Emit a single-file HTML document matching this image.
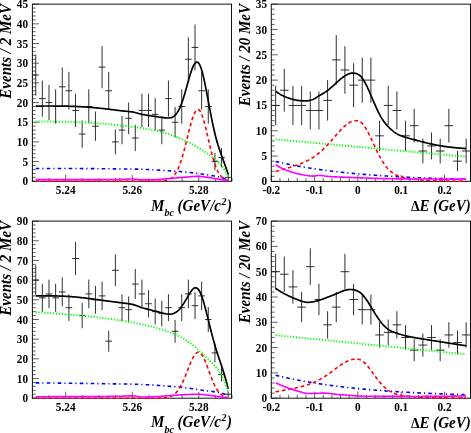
<!DOCTYPE html>
<html><head><meta charset="utf-8"><title>fit</title>
<style>
html,body{margin:0;padding:0;background:#fff;}
body{width:471px;height:433px;position:relative;overflow:hidden;font-family:"Liberation Serif",serif;}
text{font-family:"Liberation Serif",serif;fill:#000;}
.tl{font-size:12.5px;font-weight:bold;}
.ti{font-size:16px;font-weight:bold;font-style:italic;}
</style></head><body>
<svg width="471" height="433" viewBox="0 0 471 433" style="position:absolute;left:0;top:0;will-change:transform">
<rect width="471" height="433" fill="#fff"/>
<g id="P1">
<path d="M32.40,181.30h6.5 M32.40,177.36h3.3 M32.40,173.43h3.3 M32.40,169.49h3.3 M32.40,165.55h3.3 M32.40,161.62h6.5 M32.40,157.68h3.3 M32.40,153.74h3.3 M32.40,149.81h3.3 M32.40,145.87h3.3 M32.40,141.93h6.5 M32.40,138.00h3.3 M32.40,134.06h3.3 M32.40,130.12h3.3 M32.40,126.19h3.3 M32.40,122.25h6.5 M32.40,118.31h3.3 M32.40,114.38h3.3 M32.40,110.44h3.3 M32.40,106.50h3.3 M32.40,102.57h6.5 M32.40,98.63h3.3 M32.40,94.69h3.3 M32.40,90.76h3.3 M32.40,86.82h3.3 M32.40,82.88h6.5 M32.40,78.95h3.3 M32.40,75.01h3.3 M32.40,71.07h3.3 M32.40,67.14h3.3 M32.40,63.20h6.5 M32.40,59.26h3.3 M32.40,55.33h3.3 M32.40,51.39h3.3 M32.40,47.45h3.3 M32.40,43.52h6.5 M32.40,39.58h3.3 M32.40,35.64h3.3 M32.40,31.71h3.3 M32.40,27.77h3.3 M32.40,23.83h6.5 M32.40,19.90h3.3 M32.40,15.96h3.3 M32.40,12.02h3.3 M32.40,8.09h3.3 M32.40,4.15h6.5 M32.40,181.30v-3.3 M49.04,181.30v-3.3 M65.67,181.30v-6.5 M82.31,181.30v-3.3 M98.95,181.30v-3.3 M115.59,181.30v-3.3 M132.22,181.30v-6.5 M148.86,181.30v-3.3 M165.50,181.30v-3.3 M182.14,181.30v-3.3 M198.77,181.30v-6.5 M215.41,181.30v-3.3 M232.05,181.30v-3.3" stroke="#444" stroke-width="0.85" fill="none"/>
<rect x="32.40" y="4.15" width="199.10" height="177.15" fill="none" stroke="#111" stroke-width="1"/>
<path d="M35.72,54.55V95.47 M32.40,75.01H39.04 M42.35,80.59V116.67 M39.04,98.63H45.67 M48.99,84.96V120.17 M45.67,102.57H52.31 M55.63,89.34V123.66 M52.31,106.50H58.95 M62.27,67.53V106.11 M58.95,86.82H65.58 M68.90,71.88V109.64 M65.58,90.76H72.22 M75.54,93.74V127.14 M72.22,110.44H78.86 M82.17,120.42V147.70 M78.86,134.06H85.49 M88.81,89.34V123.66 M85.49,106.50H92.13 M95.45,111.46V140.92 M92.13,126.19H98.77 M102.09,45.94V88.34 M98.77,67.14H105.40 M108.72,71.88V109.64 M105.40,90.76H112.04 M115.36,129.48V154.38 M112.04,141.93H118.68 M122.00,115.93V144.32 M118.68,130.12H125.31 M128.63,102.57V134.06 M125.31,118.31H131.95 M135.27,124.94V151.05 M131.95,138.00H138.59 M141.91,93.74V127.14 M138.59,110.44H145.22 M148.54,93.74V127.14 M145.22,110.44H151.86 M155.18,98.15V130.61 M151.86,114.38H158.50 M161.81,115.93V144.32 M158.50,130.12H165.13 M168.45,80.59V116.67 M165.13,98.63H171.77 M175.09,107.00V137.50 M171.77,122.25H178.41 M181.72,89.34V123.66 M178.41,106.50H185.04 M188.36,37.34V81.18 M185.04,59.26H191.68 M195.00,24.50V70.41 M191.68,47.45H198.32 M201.64,71.88V109.64 M198.32,90.76H204.95 M208.27,89.34V123.66 M204.95,106.50H211.59 M214.91,152.81V170.42 M211.59,161.62H218.23 M221.55,148.04V167.32 M218.23,157.68H224.86 M228.18,173.43V181.30 M224.86,177.36H231.50" stroke="#1a1a1a" stroke-width="0.9" fill="none"/>
<path d="M35.72,106.15 L36.60,106.13 L37.48,106.11 L38.35,106.10 L39.23,106.08 L40.11,106.07 L40.99,106.05 L41.87,106.04 L42.75,106.03 L43.63,106.02 L44.51,106.01 L45.39,106.00 L46.26,106.00 L47.14,105.99 L48.02,105.99 L48.90,105.98 L49.78,105.98 L50.66,105.98 L51.54,105.98 L52.42,105.98 L53.29,105.98 L54.17,105.99 L55.05,105.99 L55.93,106.00 L56.81,106.00 L57.69,106.01 L58.57,106.02 L59.45,106.03 L60.33,106.04 L61.20,106.06 L62.08,106.07 L62.96,106.09 L63.84,106.11 L64.72,106.13 L65.60,106.15 L66.48,106.17 L67.36,106.19 L68.23,106.22 L69.11,106.24 L69.99,106.27 L70.87,106.30 L71.75,106.33 L72.63,106.36 L73.51,106.39 L74.39,106.42 L75.27,106.46 L76.14,106.49 L77.02,106.53 L77.90,106.57 L78.78,106.61 L79.66,106.65 L80.54,106.69 L81.42,106.73 L82.30,106.78 L83.18,106.83 L84.05,106.88 L84.93,106.94 L85.81,106.99 L86.69,107.05 L87.57,107.12 L88.45,107.18 L89.33,107.25 L90.21,107.32 L91.08,107.39 L91.96,107.47 L92.84,107.55 L93.72,107.63 L94.60,107.71 L95.48,107.79 L96.36,107.87 L97.24,107.96 L98.12,108.05 L98.99,108.14 L99.87,108.23 L100.75,108.33 L101.63,108.42 L102.51,108.52 L103.39,108.62 L104.27,108.71 L105.15,108.81 L106.02,108.92 L106.90,109.02 L107.78,109.12 L108.66,109.23 L109.54,109.33 L110.42,109.44 L111.30,109.55 L112.18,109.65 L113.06,109.76 L113.93,109.87 L114.81,109.98 L115.69,110.09 L116.57,110.20 L117.45,110.31 L118.33,110.42 L119.21,110.53 L120.09,110.65 L120.96,110.75 L121.84,110.85 L122.72,110.94 L123.60,111.03 L124.48,111.11 L125.36,111.19 L126.24,111.27 L127.12,111.35 L128.00,111.44 L128.87,111.53 L129.75,111.62 L130.63,111.72 L131.51,111.83 L132.39,111.96 L133.27,112.12 L134.15,112.31 L135.03,112.52 L135.90,112.75 L136.78,112.99 L137.66,113.24 L138.54,113.49 L139.42,113.74 L140.30,113.97 L141.18,114.19 L142.06,114.39 L142.94,114.56 L143.81,114.71 L144.69,114.86 L145.57,115.01 L146.45,115.15 L147.33,115.29 L148.21,115.43 L149.09,115.57 L149.97,115.71 L150.84,115.84 L151.72,115.97 L152.60,116.11 L153.48,116.24 L154.36,116.37 L155.24,116.51 L156.12,116.64 L157.00,116.77 L157.88,116.89 L158.75,117.01 L159.63,117.13 L160.51,117.24 L161.39,117.36 L162.27,117.47 L163.15,117.59 L164.03,117.69 L164.91,117.79 L165.78,117.88 L166.66,117.94 L167.54,117.98 L168.42,117.98 L169.30,117.93 L170.18,117.82 L171.06,117.63 L171.94,117.34 L172.82,116.94 L173.69,116.40 L174.57,115.73 L175.45,114.89 L176.33,113.87 L177.21,112.66 L178.09,111.24 L178.97,109.62 L179.85,107.77 L180.72,105.70 L181.60,103.42 L182.48,100.94 L183.36,98.27 L184.24,95.43 L185.12,92.46 L186.00,89.39 L186.88,86.24 L187.76,83.07 L188.63,79.93 L189.51,76.88 L190.39,73.98 L191.27,71.28 L192.15,68.83 L193.03,66.69 L193.91,64.91 L194.79,63.54 L195.67,62.61 L196.54,62.15 L197.42,62.18 L198.30,62.73 L199.18,63.84 L200.06,65.54 L200.94,67.78 L201.82,70.53 L202.70,73.75 L203.57,77.37 L204.45,81.34 L205.33,85.59 L206.21,90.06 L207.09,94.68 L207.97,99.38 L208.85,104.09 L209.73,108.77 L210.61,113.36 L211.48,117.84 L212.36,122.17 L213.24,126.31 L214.12,130.26 L215.00,133.99 L215.88,137.48 L216.76,140.74 L217.64,143.79 L218.51,146.64 L219.39,149.32 L220.27,151.88 L221.15,154.35 L222.03,156.76 L222.91,159.17 L223.79,161.61 L224.67,164.08 L225.55,166.58 L226.42,169.12 L227.30,171.68 L228.18,174.27" stroke="#000" stroke-width="1.7" fill="none" stroke-linejoin="round"/>
<path d="M35.72,121.46 L36.60,121.46 L37.48,121.46 L38.35,121.47 L39.23,121.47 L40.11,121.47 L40.99,121.48 L41.87,121.48 L42.75,121.49 L43.63,121.50 L44.51,121.50 L45.39,121.51 L46.26,121.52 L47.14,121.53 L48.02,121.54 L48.90,121.55 L49.78,121.56 L50.66,121.57 L51.54,121.59 L52.42,121.60 L53.29,121.61 L54.17,121.63 L55.05,121.64 L55.93,121.66 L56.81,121.68 L57.69,121.69 L58.57,121.71 L59.45,121.73 L60.33,121.75 L61.20,121.76 L62.08,121.78 L62.96,121.80 L63.84,121.82 L64.72,121.84 L65.60,121.86 L66.48,121.88 L67.36,121.91 L68.23,121.93 L69.11,121.95 L69.99,121.97 L70.87,122.00 L71.75,122.02 L72.63,122.04 L73.51,122.07 L74.39,122.09 L75.27,122.12 L76.14,122.14 L77.02,122.16 L77.90,122.19 L78.78,122.21 L79.66,122.24 L80.54,122.27 L81.42,122.29 L82.30,122.33 L83.18,122.36 L84.05,122.39 L84.93,122.43 L85.81,122.47 L86.69,122.52 L87.57,122.56 L88.45,122.61 L89.33,122.66 L90.21,122.71 L91.08,122.76 L91.96,122.82 L92.84,122.88 L93.72,122.94 L94.60,123.00 L95.48,123.06 L96.36,123.13 L97.24,123.19 L98.12,123.26 L98.99,123.33 L99.87,123.41 L100.75,123.48 L101.63,123.56 L102.51,123.63 L103.39,123.71 L104.27,123.79 L105.15,123.87 L106.02,123.96 L106.90,124.04 L107.78,124.12 L108.66,124.21 L109.54,124.30 L110.42,124.39 L111.30,124.48 L112.18,124.57 L113.06,124.66 L113.93,124.75 L114.81,124.85 L115.69,124.94 L116.57,125.04 L117.45,125.14 L118.33,125.23 L119.21,125.33 L120.09,125.43 L120.96,125.53 L121.84,125.63 L122.72,125.73 L123.60,125.83 L124.48,125.93 L125.36,126.04 L126.24,126.14 L127.12,126.24 L128.00,126.34 L128.87,126.45 L129.75,126.55 L130.63,126.66 L131.51,126.76 L132.39,126.87 L133.27,126.98 L134.15,127.09 L135.03,127.21 L135.90,127.33 L136.78,127.45 L137.66,127.57 L138.54,127.70 L139.42,127.83 L140.30,127.96 L141.18,128.09 L142.06,128.23 L142.94,128.36 L143.81,128.51 L144.69,128.65 L145.57,128.80 L146.45,128.95 L147.33,129.10 L148.21,129.26 L149.09,129.42 L149.97,129.59 L150.84,129.75 L151.72,129.92 L152.60,130.10 L153.48,130.27 L154.36,130.45 L155.24,130.64 L156.12,130.82 L157.00,131.02 L157.88,131.21 L158.75,131.41 L159.63,131.61 L160.51,131.82 L161.39,132.04 L162.27,132.26 L163.15,132.50 L164.03,132.75 L164.91,133.00 L165.78,133.26 L166.66,133.53 L167.54,133.82 L168.42,134.10 L169.30,134.40 L170.18,134.70 L171.06,135.01 L171.94,135.33 L172.82,135.65 L173.69,135.99 L174.57,136.32 L175.45,136.67 L176.33,137.01 L177.21,137.37 L178.09,137.73 L178.97,138.09 L179.85,138.46 L180.72,138.83 L181.60,139.21 L182.48,139.59 L183.36,139.98 L184.24,140.36 L185.12,140.75 L186.00,141.15 L186.88,141.54 L187.76,141.94 L188.63,142.36 L189.51,142.78 L190.39,143.22 L191.27,143.67 L192.15,144.12 L193.03,144.59 L193.91,145.07 L194.79,145.56 L195.67,146.06 L196.54,146.57 L197.42,147.09 L198.30,147.61 L199.18,148.15 L200.06,148.69 L200.94,149.23 L201.82,149.79 L202.70,150.35 L203.57,150.91 L204.45,151.48 L205.33,152.06 L206.21,152.65 L207.09,153.26 L207.97,153.88 L208.85,154.51 L209.73,155.16 L210.61,155.82 L211.48,156.49 L212.36,157.18 L213.24,157.88 L214.12,158.60 L215.00,159.34 L215.88,160.07 L216.76,160.81 L217.64,161.56 L218.51,162.35 L219.39,163.18 L220.27,164.08 L221.15,165.05 L222.03,166.11 L222.91,167.31 L223.79,168.65 L224.67,170.11 L225.55,171.70 L226.42,173.39 L227.30,175.17 L228.18,177.04" stroke="#00ff00" stroke-width="1.9" fill="none" stroke-dasharray="1.2 1.7"/>
<path d="M35.72,168.43 L36.60,168.43 L37.48,168.43 L38.35,168.43 L39.23,168.43 L40.11,168.43 L40.99,168.43 L41.87,168.43 L42.75,168.43 L43.63,168.43 L44.51,168.43 L45.39,168.43 L46.26,168.43 L47.14,168.44 L48.02,168.44 L48.90,168.44 L49.78,168.44 L50.66,168.44 L51.54,168.44 L52.42,168.45 L53.29,168.45 L54.17,168.45 L55.05,168.45 L55.93,168.46 L56.81,168.46 L57.69,168.46 L58.57,168.46 L59.45,168.47 L60.33,168.47 L61.20,168.47 L62.08,168.48 L62.96,168.48 L63.84,168.48 L64.72,168.49 L65.60,168.49 L66.48,168.49 L67.36,168.50 L68.23,168.50 L69.11,168.50 L69.99,168.51 L70.87,168.51 L71.75,168.52 L72.63,168.52 L73.51,168.53 L74.39,168.53 L75.27,168.53 L76.14,168.54 L77.02,168.54 L77.90,168.55 L78.78,168.55 L79.66,168.56 L80.54,168.57 L81.42,168.57 L82.30,168.58 L83.18,168.58 L84.05,168.59 L84.93,168.59 L85.81,168.60 L86.69,168.60 L87.57,168.61 L88.45,168.62 L89.33,168.62 L90.21,168.63 L91.08,168.64 L91.96,168.64 L92.84,168.65 L93.72,168.66 L94.60,168.66 L95.48,168.67 L96.36,168.68 L97.24,168.68 L98.12,168.69 L98.99,168.70 L99.87,168.71 L100.75,168.71 L101.63,168.72 L102.51,168.73 L103.39,168.74 L104.27,168.74 L105.15,168.75 L106.02,168.76 L106.90,168.77 L107.78,168.78 L108.66,168.79 L109.54,168.79 L110.42,168.80 L111.30,168.81 L112.18,168.82 L113.06,168.83 L113.93,168.84 L114.81,168.85 L115.69,168.86 L116.57,168.87 L117.45,168.87 L118.33,168.88 L119.21,168.89 L120.09,168.90 L120.96,168.91 L121.84,168.92 L122.72,168.93 L123.60,168.94 L124.48,168.95 L125.36,168.96 L126.24,168.97 L127.12,168.98 L128.00,168.99 L128.87,169.00 L129.75,169.01 L130.63,169.03 L131.51,169.04 L132.39,169.05 L133.27,169.07 L134.15,169.09 L135.03,169.11 L135.90,169.13 L136.78,169.15 L137.66,169.17 L138.54,169.20 L139.42,169.22 L140.30,169.25 L141.18,169.28 L142.06,169.31 L142.94,169.34 L143.81,169.38 L144.69,169.41 L145.57,169.45 L146.45,169.48 L147.33,169.52 L148.21,169.56 L149.09,169.60 L149.97,169.64 L150.84,169.69 L151.72,169.73 L152.60,169.78 L153.48,169.82 L154.36,169.87 L155.24,169.92 L156.12,169.97 L157.00,170.02 L157.88,170.07 L158.75,170.12 L159.63,170.17 L160.51,170.23 L161.39,170.28 L162.27,170.33 L163.15,170.39 L164.03,170.45 L164.91,170.50 L165.78,170.56 L166.66,170.62 L167.54,170.68 L168.42,170.74 L169.30,170.80 L170.18,170.86 L171.06,170.93 L171.94,170.99 L172.82,171.05 L173.69,171.11 L174.57,171.18 L175.45,171.24 L176.33,171.31 L177.21,171.37 L178.09,171.44 L178.97,171.50 L179.85,171.57 L180.72,171.63 L181.60,171.70 L182.48,171.77 L183.36,171.85 L184.24,171.93 L185.12,172.01 L186.00,172.09 L186.88,172.18 L187.76,172.28 L188.63,172.37 L189.51,172.47 L190.39,172.57 L191.27,172.67 L192.15,172.78 L193.03,172.89 L193.91,173.00 L194.79,173.11 L195.67,173.22 L196.54,173.34 L197.42,173.46 L198.30,173.57 L199.18,173.69 L200.06,173.82 L200.94,173.94 L201.82,174.06 L202.70,174.18 L203.57,174.31 L204.45,174.43 L205.33,174.56 L206.21,174.68 L207.09,174.81 L207.97,174.94 L208.85,175.07 L209.73,175.20 L210.61,175.34 L211.48,175.48 L212.36,175.62 L213.24,175.77 L214.12,175.93 L215.00,176.09 L215.88,176.26 L216.76,176.44 L217.64,176.62 L218.51,176.81 L219.39,177.02 L220.27,177.24 L221.15,177.48 L222.03,177.74 L222.91,178.02 L223.79,178.31 L224.67,178.62 L225.55,178.94 L226.42,179.27 L227.30,179.61 L228.18,179.95" stroke="#0000ff" stroke-width="1.6" fill="none" stroke-dasharray="3.6 3 1.2 3.2"/>
<path d="M35.72,181.30 L36.60,181.30 L37.48,181.30 L38.35,181.30 L39.23,181.30 L40.11,181.30 L40.99,181.30 L41.87,181.30 L42.75,181.30 L43.63,181.30 L44.51,181.30 L45.39,181.30 L46.26,181.30 L47.14,181.30 L48.02,181.30 L48.90,181.30 L49.78,181.30 L50.66,181.30 L51.54,181.30 L52.42,181.30 L53.29,181.30 L54.17,181.30 L55.05,181.30 L55.93,181.30 L56.81,181.30 L57.69,181.30 L58.57,181.30 L59.45,181.30 L60.33,181.30 L61.20,181.30 L62.08,181.30 L62.96,181.30 L63.84,181.30 L64.72,181.30 L65.60,181.30 L66.48,181.30 L67.36,181.30 L68.23,181.30 L69.11,181.30 L69.99,181.30 L70.87,181.30 L71.75,181.30 L72.63,181.30 L73.51,181.30 L74.39,181.30 L75.27,181.30 L76.14,181.30 L77.02,181.30 L77.90,181.30 L78.78,181.30 L79.66,181.30 L80.54,181.30 L81.42,181.30 L82.30,181.30 L83.18,181.30 L84.05,181.30 L84.93,181.30 L85.81,181.30 L86.69,181.30 L87.57,181.30 L88.45,181.30 L89.33,181.30 L90.21,181.30 L91.08,181.30 L91.96,181.30 L92.84,181.30 L93.72,181.30 L94.60,181.30 L95.48,181.30 L96.36,181.30 L97.24,181.30 L98.12,181.30 L98.99,181.30 L99.87,181.30 L100.75,181.30 L101.63,181.30 L102.51,181.30 L103.39,181.30 L104.27,181.30 L105.15,181.30 L106.02,181.30 L106.90,181.30 L107.78,181.30 L108.66,181.30 L109.54,181.30 L110.42,181.30 L111.30,181.30 L112.18,181.30 L113.06,181.30 L113.93,181.30 L114.81,181.30 L115.69,181.30 L116.57,181.30 L117.45,181.30 L118.33,181.30 L119.21,181.30 L120.09,181.30 L120.96,181.30 L121.84,181.30 L122.72,181.30 L123.60,181.30 L124.48,181.30 L125.36,181.30 L126.24,181.30 L127.12,181.30 L128.00,181.30 L128.87,181.30 L129.75,181.30 L130.63,181.30 L131.51,181.30 L132.39,181.30 L133.27,181.30 L134.15,181.30 L135.03,181.30 L135.90,181.30 L136.78,181.30 L137.66,181.30 L138.54,181.30 L139.42,181.30 L140.30,181.30 L141.18,181.30 L142.06,181.30 L142.94,181.30 L143.81,181.30 L144.69,181.30 L145.57,181.30 L146.45,181.30 L147.33,181.30 L148.21,181.30 L149.09,181.30 L149.97,181.30 L150.84,181.30 L151.72,181.29 L152.60,181.29 L153.48,181.29 L154.36,181.28 L155.24,181.28 L156.12,181.27 L157.00,181.25 L157.88,181.24 L158.75,181.21 L159.63,181.18 L160.51,181.14 L161.39,181.09 L162.27,181.03 L163.15,180.94 L164.03,180.84 L164.91,180.70 L165.78,180.53 L166.66,180.31 L167.54,180.05 L168.42,179.73 L169.30,179.33 L170.18,178.85 L171.06,178.28 L171.94,177.60 L172.82,176.80 L173.69,175.86 L174.57,174.76 L175.45,173.50 L176.33,172.06 L177.21,170.42 L178.09,168.58 L178.97,166.53 L179.85,164.27 L180.72,161.78 L181.60,159.09 L182.48,156.20 L183.36,153.12 L184.24,149.87 L185.12,146.49 L186.00,143.00 L186.88,139.45 L187.76,135.87 L188.63,132.32 L189.51,128.85 L190.39,125.50 L191.27,122.35 L192.15,119.43 L193.03,116.81 L193.91,114.52 L194.79,112.62 L195.67,111.15 L196.54,110.12 L197.42,109.56 L198.30,109.49 L199.18,109.95 L200.06,110.96 L200.94,112.49 L201.82,114.50 L202.70,116.96 L203.57,119.79 L204.45,122.96 L205.33,126.39 L206.21,130.01 L207.09,133.77 L207.97,137.59 L208.85,141.41 L209.73,145.18 L210.61,148.84 L211.48,152.35 L212.36,155.69 L213.24,158.81 L214.12,161.71 L215.00,164.36 L215.88,166.77 L216.76,168.93 L217.64,170.85 L218.51,172.54 L219.39,174.01 L220.27,175.29 L221.15,176.37 L222.03,177.30 L222.91,178.07 L223.79,178.72 L224.67,179.25 L225.55,179.68 L226.42,180.04 L227.30,180.32 L228.18,180.54" stroke="#ff0000" stroke-width="1.6" fill="none" stroke-dasharray="3.6 2.8"/>
<path d="M35.72,179.65 L36.60,179.65 L37.48,179.65 L38.35,179.65 L39.23,179.65 L40.11,179.65 L40.99,179.65 L41.87,179.65 L42.75,179.65 L43.63,179.65 L44.51,179.65 L45.39,179.65 L46.26,179.65 L47.14,179.65 L48.02,179.65 L48.90,179.65 L49.78,179.65 L50.66,179.65 L51.54,179.65 L52.42,179.65 L53.29,179.65 L54.17,179.65 L55.05,179.65 L55.93,179.65 L56.81,179.65 L57.69,179.65 L58.57,179.65 L59.45,179.65 L60.33,179.65 L61.20,179.65 L62.08,179.65 L62.96,179.65 L63.84,179.65 L64.72,179.65 L65.60,179.65 L66.48,179.65 L67.36,179.65 L68.23,179.65 L69.11,179.65 L69.99,179.65 L70.87,179.65 L71.75,179.65 L72.63,179.65 L73.51,179.65 L74.39,179.65 L75.27,179.65 L76.14,179.65 L77.02,179.65 L77.90,179.65 L78.78,179.65 L79.66,179.65 L80.54,179.65 L81.42,179.65 L82.30,179.65 L83.18,179.65 L84.05,179.64 L84.93,179.64 L85.81,179.64 L86.69,179.64 L87.57,179.64 L88.45,179.64 L89.33,179.63 L90.21,179.63 L91.08,179.63 L91.96,179.62 L92.84,179.62 L93.72,179.62 L94.60,179.61 L95.48,179.61 L96.36,179.61 L97.24,179.60 L98.12,179.60 L98.99,179.59 L99.87,179.59 L100.75,179.58 L101.63,179.58 L102.51,179.57 L103.39,179.56 L104.27,179.56 L105.15,179.55 L106.02,179.54 L106.90,179.54 L107.78,179.53 L108.66,179.52 L109.54,179.52 L110.42,179.51 L111.30,179.50 L112.18,179.49 L113.06,179.48 L113.93,179.47 L114.81,179.47 L115.69,179.46 L116.57,179.45 L117.45,179.44 L118.33,179.43 L119.21,179.42 L120.09,179.41 L120.96,179.39 L121.84,179.37 L122.72,179.34 L123.60,179.31 L124.48,179.27 L125.36,179.23 L126.24,179.19 L127.12,179.15 L128.00,179.11 L128.87,179.08 L129.75,179.05 L130.63,179.03 L131.51,179.02 L132.39,179.02 L133.27,179.05 L134.15,179.11 L135.03,179.18 L135.90,179.28 L136.78,179.38 L137.66,179.49 L138.54,179.60 L139.42,179.70 L140.30,179.79 L141.18,179.86 L142.06,179.90 L142.94,179.92 L143.81,179.92 L144.69,179.91 L145.57,179.90 L146.45,179.89 L147.33,179.88 L148.21,179.86 L149.09,179.83 L149.97,179.81 L150.84,179.78 L151.72,179.76 L152.60,179.73 L153.48,179.70 L154.36,179.67 L155.24,179.64 L156.12,179.60 L157.00,179.56 L157.88,179.50 L158.75,179.45 L159.63,179.38 L160.51,179.31 L161.39,179.24 L162.27,179.17 L163.15,179.09 L164.03,179.01 L164.91,178.93 L165.78,178.84 L166.66,178.76 L167.54,178.68 L168.42,178.60 L169.30,178.52 L170.18,178.45 L171.06,178.38 L171.94,178.30 L172.82,178.22 L173.69,178.14 L174.57,178.06 L175.45,177.98 L176.33,177.90 L177.21,177.82 L178.09,177.74 L178.97,177.66 L179.85,177.58 L180.72,177.51 L181.60,177.43 L182.48,177.36 L183.36,177.29 L184.24,177.22 L185.12,177.16 L186.00,177.09 L186.88,177.02 L187.76,176.95 L188.63,176.88 L189.51,176.81 L190.39,176.74 L191.27,176.67 L192.15,176.61 L193.03,176.55 L193.91,176.50 L194.79,176.46 L195.67,176.42 L196.54,176.40 L197.42,176.38 L198.30,176.38 L199.18,176.40 L200.06,176.44 L200.94,176.50 L201.82,176.58 L202.70,176.67 L203.57,176.77 L204.45,176.89 L205.33,177.01 L206.21,177.13 L207.09,177.26 L207.97,177.39 L208.85,177.52 L209.73,177.64 L210.61,177.76 L211.48,177.90 L212.36,178.04 L213.24,178.19 L214.12,178.35 L215.00,178.51 L215.88,178.67 L216.76,178.84 L217.64,179.00 L218.51,179.16 L219.39,179.31 L220.27,179.45 L221.15,179.59 L222.03,179.73 L222.91,179.87 L223.79,180.00 L224.67,180.14 L225.55,180.27 L226.42,180.40 L227.30,180.52 L228.18,180.65" stroke="#ff00ff" stroke-width="1.6" fill="none"/>
<text transform="translate(28.10,185.35) scale(0.9,1)" text-anchor="end" class="tl">0</text>
<text transform="translate(28.10,165.67) scale(0.9,1)" text-anchor="end" class="tl">5</text>
<text transform="translate(28.10,145.98) scale(0.9,1)" text-anchor="end" class="tl">10</text>
<text transform="translate(28.10,126.30) scale(0.9,1)" text-anchor="end" class="tl">15</text>
<text transform="translate(28.10,106.62) scale(0.9,1)" text-anchor="end" class="tl">20</text>
<text transform="translate(28.10,86.93) scale(0.9,1)" text-anchor="end" class="tl">25</text>
<text transform="translate(28.10,67.25) scale(0.9,1)" text-anchor="end" class="tl">30</text>
<text transform="translate(28.10,47.57) scale(0.9,1)" text-anchor="end" class="tl">35</text>
<text transform="translate(28.10,27.88) scale(0.9,1)" text-anchor="end" class="tl">40</text>
<text transform="translate(28.10,8.20) scale(0.9,1)" text-anchor="end" class="tl">45</text>
<text transform="translate(65.67,194.20) scale(0.9,1)" text-anchor="middle" class="tl">5.24</text>
<text transform="translate(132.22,194.20) scale(0.9,1)" text-anchor="middle" class="tl">5.26</text>
<text transform="translate(198.77,194.20) scale(0.9,1)" text-anchor="middle" class="tl">5.28</text>
<text transform="translate(232.00,210.60) scale(0.94,1)" text-anchor="end" class="ti">M<tspan font-size="10.6" dy="5.8">bc</tspan><tspan dy="-5.8"> (GeV/c</tspan><tspan font-size="10.6" dy="-6" dx="0.5">2</tspan><tspan dy="6" dx="0.6">)</tspan></text>
<text transform="translate(10.80,3.95) rotate(-90) scale(0.94,1)" text-anchor="end" class="ti">Events / 2 MeV</text>
</g>
<g id="P2">
<path d="M271.30,181.40h6.5 M271.30,176.34h3.3 M271.30,171.27h3.3 M271.30,166.21h3.3 M271.30,161.14h3.3 M271.30,156.08h6.5 M271.30,151.01h3.3 M271.30,145.95h3.3 M271.30,140.89h3.3 M271.30,135.82h3.3 M271.30,130.76h6.5 M271.30,125.69h3.3 M271.30,120.63h3.3 M271.30,115.56h3.3 M271.30,110.50h3.3 M271.30,105.44h6.5 M271.30,100.37h3.3 M271.30,95.31h3.3 M271.30,90.24h3.3 M271.30,85.18h3.3 M271.30,80.11h6.5 M271.30,75.05h3.3 M271.30,69.99h3.3 M271.30,64.92h3.3 M271.30,59.86h3.3 M271.30,54.79h6.5 M271.30,49.73h3.3 M271.30,44.66h3.3 M271.30,39.60h3.3 M271.30,34.54h3.3 M271.30,29.47h6.5 M271.30,24.41h3.3 M271.30,19.34h3.3 M271.30,14.28h3.3 M271.30,9.21h3.3 M271.30,4.15h6.5 M271.30,181.40v-6.5 M279.96,181.40v-3.3 M288.62,181.40v-3.3 M297.28,181.40v-3.3 M305.94,181.40v-3.3 M314.60,181.40v-6.5 M323.26,181.40v-3.3 M331.92,181.40v-3.3 M340.58,181.40v-3.3 M349.24,181.40v-3.3 M357.90,181.40v-6.5 M366.56,181.40v-3.3 M375.22,181.40v-3.3 M383.88,181.40v-3.3 M392.54,181.40v-3.3 M401.20,181.40v-6.5 M409.86,181.40v-3.3 M418.52,181.40v-3.3 M427.18,181.40v-3.3 M435.84,181.40v-3.3 M444.50,181.40v-6.5 M453.16,181.40v-3.3 M461.82,181.40v-3.3 M470.48,181.40v-3.3" stroke="#444" stroke-width="0.85" fill="none"/>
<rect x="271.30" y="4.15" width="199.20" height="177.25" fill="none" stroke="#111" stroke-width="1"/>
<path d="M275.63,85.82V125.05 M271.30,105.44H279.96 M284.29,68.76V111.73 M279.96,90.24H288.62 M292.95,85.82V125.05 M288.62,105.44H297.28 M301.61,85.82V125.05 M297.28,105.44H305.94 M310.27,91.55V129.45 M305.94,110.50H314.60 M318.93,91.55V129.45 M314.60,110.50H323.27 M327.60,80.11V120.63 M323.27,100.37H331.93 M336.26,35.05V84.67 M331.93,59.86H340.59 M344.92,46.23V93.74 M340.59,69.99H349.25 M353.58,63.10V107.25 M349.25,85.18H357.91 M362.24,57.47V102.76 M357.91,80.11H366.57 M370.90,57.47V102.76 M366.57,80.11H375.23 M379.56,120.63V151.01 M375.23,135.82H383.89 M388.22,85.82V125.05 M383.89,105.44H392.55 M396.88,91.55V129.45 M392.55,110.50H401.21 M405.54,120.63V151.01 M401.21,135.82H409.87 M414.20,108.90V142.49 M409.87,125.69H418.53 M422.87,138.61V163.42 M418.53,151.01H427.20 M431.53,132.55V159.35 M427.20,145.95H435.86 M440.19,138.61V163.42 M435.86,151.01H444.52 M448.85,108.90V142.49 M444.52,125.69H453.18 M457.51,151.01V171.27 M453.18,161.14H461.84 M466.17,138.61V163.42 M461.84,151.01H470.50" stroke="#1a1a1a" stroke-width="0.9" fill="none"/>
<path d="M275.63,91.26 L276.50,91.87 L277.37,92.46 L278.24,93.04 L279.11,93.60 L279.98,94.14 L280.85,94.66 L281.72,95.16 L282.59,95.62 L283.46,96.06 L284.33,96.46 L285.20,96.83 L286.07,97.17 L286.94,97.50 L287.81,97.82 L288.68,98.13 L289.55,98.42 L290.42,98.69 L291.29,98.95 L292.16,99.20 L293.03,99.43 L293.90,99.64 L294.77,99.84 L295.64,100.02 L296.51,100.18 L297.38,100.32 L298.25,100.45 L299.12,100.55 L299.99,100.63 L300.86,100.70 L301.73,100.76 L302.60,100.82 L303.47,100.85 L304.34,100.88 L305.21,100.88 L306.08,100.85 L306.95,100.80 L307.82,100.72 L308.69,100.61 L309.56,100.46 L310.43,100.27 L311.30,100.03 L312.17,99.75 L313.04,99.42 L313.91,99.01 L314.78,98.53 L315.65,98.01 L316.52,97.45 L317.39,96.89 L318.26,96.33 L319.13,95.81 L320.00,95.30 L320.87,94.79 L321.74,94.28 L322.61,93.76 L323.48,93.23 L324.35,92.69 L325.22,92.13 L326.09,91.55 L326.96,90.94 L327.83,90.30 L328.70,89.63 L329.57,88.93 L330.44,88.19 L331.31,87.43 L332.18,86.66 L333.05,85.88 L333.92,85.09 L334.79,84.29 L335.66,83.50 L336.53,82.70 L337.40,81.91 L338.27,81.13 L339.14,80.36 L340.01,79.60 L340.88,78.87 L341.75,78.16 L342.62,77.48 L343.49,76.83 L344.36,76.22 L345.23,75.66 L346.10,75.13 L346.97,74.66 L347.84,74.24 L348.71,73.88 L349.58,73.58 L350.45,73.34 L351.32,73.17 L352.19,73.07 L353.06,73.05 L353.93,73.10 L354.80,73.22 L355.67,73.42 L356.54,73.70 L357.41,74.05 L358.28,74.48 L359.15,75.01 L360.02,75.71 L360.89,76.56 L361.76,77.57 L362.63,78.73 L363.50,80.03 L364.37,81.47 L365.24,83.03 L366.11,84.69 L366.98,86.46 L367.85,88.31 L368.72,90.23 L369.59,92.21 L370.46,94.23 L371.34,96.28 L372.21,98.34 L373.08,100.40 L373.95,102.45 L374.82,104.46 L375.69,106.44 L376.56,108.36 L377.43,110.23 L378.30,112.02 L379.17,113.73 L380.04,115.36 L380.91,116.89 L381.78,118.34 L382.65,119.69 L383.52,120.96 L384.39,122.16 L385.26,123.28 L386.13,124.34 L387.00,125.33 L387.87,126.28 L388.74,127.18 L389.61,128.05 L390.48,128.88 L391.35,129.68 L392.22,130.44 L393.09,131.16 L393.96,131.84 L394.83,132.48 L395.70,133.08 L396.57,133.63 L397.44,134.13 L398.31,134.59 L399.18,135.01 L400.05,135.40 L400.92,135.75 L401.79,136.08 L402.66,136.39 L403.53,136.68 L404.40,136.96 L405.27,137.22 L406.14,137.49 L407.01,137.74 L407.88,137.99 L408.75,138.24 L409.62,138.48 L410.49,138.72 L411.36,138.96 L412.23,139.20 L413.10,139.43 L413.97,139.66 L414.84,139.90 L415.71,140.13 L416.58,140.36 L417.45,140.59 L418.32,140.81 L419.19,141.04 L420.06,141.27 L420.93,141.49 L421.80,141.71 L422.67,141.93 L423.54,142.15 L424.41,142.37 L425.28,142.58 L426.15,142.79 L427.02,143.00 L427.89,143.21 L428.76,143.41 L429.63,143.61 L430.50,143.81 L431.37,144.01 L432.24,144.20 L433.11,144.38 L433.98,144.57 L434.85,144.75 L435.72,144.92 L436.59,145.10 L437.46,145.26 L438.33,145.42 L439.20,145.58 L440.07,145.73 L440.94,145.88 L441.81,146.02 L442.68,146.16 L443.55,146.29 L444.42,146.42 L445.29,146.54 L446.16,146.66 L447.03,146.78 L447.90,146.89 L448.77,147.00 L449.64,147.10 L450.51,147.20 L451.38,147.30 L452.25,147.39 L453.12,147.48 L453.99,147.57 L454.86,147.66 L455.73,147.74 L456.60,147.82 L457.47,147.90 L458.34,147.98 L459.21,148.05 L460.08,148.12 L460.95,148.20 L461.82,148.27 L462.69,148.33 L463.56,148.40 L464.43,148.47 L465.30,148.53 L466.17,148.60" stroke="#000" stroke-width="1.7" fill="none" stroke-linejoin="round"/>
<path d="M275.63,139.36 L276.50,139.44 L277.37,139.52 L278.24,139.60 L279.11,139.68 L279.98,139.76 L280.85,139.84 L281.72,139.92 L282.59,139.99 L283.46,140.07 L284.33,140.15 L285.20,140.23 L286.07,140.31 L286.94,140.39 L287.81,140.47 L288.68,140.55 L289.55,140.63 L290.42,140.71 L291.29,140.79 L292.16,140.87 L293.03,140.95 L293.90,141.03 L294.77,141.10 L295.64,141.18 L296.51,141.26 L297.38,141.34 L298.25,141.42 L299.12,141.50 L299.99,141.58 L300.86,141.66 L301.73,141.74 L302.60,141.82 L303.47,141.90 L304.34,141.98 L305.21,142.06 L306.08,142.14 L306.95,142.22 L307.82,142.29 L308.69,142.37 L309.56,142.45 L310.43,142.53 L311.30,142.61 L312.17,142.69 L313.04,142.77 L313.91,142.85 L314.78,142.93 L315.65,143.01 L316.52,143.09 L317.39,143.17 L318.26,143.25 L319.13,143.33 L320.00,143.40 L320.87,143.48 L321.74,143.56 L322.61,143.64 L323.48,143.72 L324.35,143.80 L325.22,143.88 L326.09,143.96 L326.96,144.04 L327.83,144.12 L328.70,144.20 L329.57,144.28 L330.44,144.36 L331.31,144.44 L332.18,144.52 L333.05,144.59 L333.92,144.67 L334.79,144.75 L335.66,144.83 L336.53,144.91 L337.40,144.99 L338.27,145.07 L339.14,145.15 L340.01,145.23 L340.88,145.31 L341.75,145.39 L342.62,145.47 L343.49,145.55 L344.36,145.63 L345.23,145.70 L346.10,145.78 L346.97,145.86 L347.84,145.94 L348.71,146.02 L349.58,146.10 L350.45,146.18 L351.32,146.26 L352.19,146.34 L353.06,146.42 L353.93,146.50 L354.80,146.58 L355.67,146.66 L356.54,146.74 L357.41,146.82 L358.28,146.89 L359.15,146.97 L360.02,147.05 L360.89,147.13 L361.76,147.21 L362.63,147.29 L363.50,147.37 L364.37,147.45 L365.24,147.53 L366.11,147.61 L366.98,147.69 L367.85,147.77 L368.72,147.85 L369.59,147.93 L370.46,148.00 L371.34,148.08 L372.21,148.16 L373.08,148.24 L373.95,148.32 L374.82,148.40 L375.69,148.48 L376.56,148.56 L377.43,148.64 L378.30,148.72 L379.17,148.80 L380.04,148.88 L380.91,148.96 L381.78,149.04 L382.65,149.12 L383.52,149.19 L384.39,149.27 L385.26,149.35 L386.13,149.43 L387.00,149.51 L387.87,149.59 L388.74,149.67 L389.61,149.75 L390.48,149.83 L391.35,149.91 L392.22,149.99 L393.09,150.07 L393.96,150.15 L394.83,150.23 L395.70,150.30 L396.57,150.38 L397.44,150.46 L398.31,150.54 L399.18,150.62 L400.05,150.70 L400.92,150.78 L401.79,150.86 L402.66,150.94 L403.53,151.02 L404.40,151.10 L405.27,151.18 L406.14,151.26 L407.01,151.34 L407.88,151.42 L408.75,151.49 L409.62,151.57 L410.49,151.65 L411.36,151.73 L412.23,151.81 L413.10,151.89 L413.97,151.97 L414.84,152.05 L415.71,152.13 L416.58,152.21 L417.45,152.29 L418.32,152.37 L419.19,152.45 L420.06,152.53 L420.93,152.60 L421.80,152.68 L422.67,152.76 L423.54,152.84 L424.41,152.92 L425.28,153.00 L426.15,153.08 L427.02,153.16 L427.89,153.24 L428.76,153.32 L429.63,153.40 L430.50,153.48 L431.37,153.56 L432.24,153.64 L433.11,153.72 L433.98,153.79 L434.85,153.87 L435.72,153.95 L436.59,154.03 L437.46,154.11 L438.33,154.19 L439.20,154.27 L440.07,154.35 L440.94,154.43 L441.81,154.51 L442.68,154.59 L443.55,154.67 L444.42,154.75 L445.29,154.83 L446.16,154.90 L447.03,154.98 L447.90,155.06 L448.77,155.14 L449.64,155.22 L450.51,155.30 L451.38,155.38 L452.25,155.46 L453.12,155.54 L453.99,155.62 L454.86,155.70 L455.73,155.78 L456.60,155.86 L457.47,155.94 L458.34,156.02 L459.21,156.09 L460.08,156.17 L460.95,156.25 L461.82,156.33 L462.69,156.41 L463.56,156.49 L464.43,156.57 L465.30,156.65 L466.17,156.73" stroke="#00ff00" stroke-width="1.9" fill="none" stroke-dasharray="1.2 1.7"/>
<path d="M275.63,161.48 L276.50,161.68 L277.37,161.89 L278.24,162.09 L279.11,162.28 L279.98,162.48 L280.85,162.67 L281.72,162.86 L282.59,163.05 L283.46,163.24 L284.33,163.42 L285.20,163.61 L286.07,163.79 L286.94,163.97 L287.81,164.15 L288.68,164.32 L289.55,164.50 L290.42,164.67 L291.29,164.84 L292.16,165.01 L293.03,165.18 L293.90,165.34 L294.77,165.51 L295.64,165.67 L296.51,165.83 L297.38,165.99 L298.25,166.15 L299.12,166.30 L299.99,166.46 L300.86,166.61 L301.73,166.76 L302.60,166.91 L303.47,167.06 L304.34,167.21 L305.21,167.35 L306.08,167.49 L306.95,167.64 L307.82,167.78 L308.69,167.92 L309.56,168.05 L310.43,168.19 L311.30,168.32 L312.17,168.46 L313.04,168.59 L313.91,168.72 L314.78,168.85 L315.65,168.98 L316.52,169.11 L317.39,169.23 L318.26,169.36 L319.13,169.48 L320.00,169.60 L320.87,169.72 L321.74,169.84 L322.61,169.96 L323.48,170.07 L324.35,170.19 L325.22,170.31 L326.09,170.42 L326.96,170.53 L327.83,170.64 L328.70,170.75 L329.57,170.86 L330.44,170.97 L331.31,171.07 L332.18,171.18 L333.05,171.28 L333.92,171.39 L334.79,171.49 L335.66,171.59 L336.53,171.69 L337.40,171.79 L338.27,171.89 L339.14,171.99 L340.01,172.08 L340.88,172.18 L341.75,172.27 L342.62,172.36 L343.49,172.46 L344.36,172.55 L345.23,172.64 L346.10,172.73 L346.97,172.82 L347.84,172.90 L348.71,172.99 L349.58,173.08 L350.45,173.16 L351.32,173.25 L352.19,173.33 L353.06,173.41 L353.93,173.49 L354.80,173.57 L355.67,173.65 L356.54,173.73 L357.41,173.81 L358.28,173.89 L359.15,173.97 L360.02,174.04 L360.89,174.12 L361.76,174.19 L362.63,174.26 L363.50,174.34 L364.37,174.41 L365.24,174.48 L366.11,174.55 L366.98,174.62 L367.85,174.69 L368.72,174.76 L369.59,174.83 L370.46,174.89 L371.34,174.96 L372.21,175.03 L373.08,175.09 L373.95,175.16 L374.82,175.22 L375.69,175.28 L376.56,175.35 L377.43,175.41 L378.30,175.47 L379.17,175.53 L380.04,175.59 L380.91,175.65 L381.78,175.71 L382.65,175.77 L383.52,175.82 L384.39,175.88 L385.26,175.94 L386.13,175.99 L387.00,176.05 L387.87,176.10 L388.74,176.16 L389.61,176.21 L390.48,176.26 L391.35,176.32 L392.22,176.37 L393.09,176.42 L393.96,176.47 L394.83,176.52 L395.70,176.57 L396.57,176.62 L397.44,176.67 L398.31,176.72 L399.18,176.76 L400.05,176.81 L400.92,176.86 L401.79,176.90 L402.66,176.95 L403.53,177.00 L404.40,177.04 L405.27,177.09 L406.14,177.13 L407.01,177.17 L407.88,177.22 L408.75,177.26 L409.62,177.30 L410.49,177.34 L411.36,177.38 L412.23,177.43 L413.10,177.47 L413.97,177.51 L414.84,177.55 L415.71,177.59 L416.58,177.62 L417.45,177.66 L418.32,177.70 L419.19,177.74 L420.06,177.78 L420.93,177.81 L421.80,177.85 L422.67,177.89 L423.54,177.92 L424.41,177.96 L425.28,177.99 L426.15,178.03 L427.02,178.06 L427.89,178.10 L428.76,178.13 L429.63,178.16 L430.50,178.20 L431.37,178.23 L432.24,178.26 L433.11,178.29 L433.98,178.33 L434.85,178.36 L435.72,178.39 L436.59,178.42 L437.46,178.45 L438.33,178.48 L439.20,178.51 L440.07,178.54 L440.94,178.57 L441.81,178.60 L442.68,178.63 L443.55,178.65 L444.42,178.68 L445.29,178.71 L446.16,178.74 L447.03,178.76 L447.90,178.79 L448.77,178.82 L449.64,178.84 L450.51,178.87 L451.38,178.90 L452.25,178.92 L453.12,178.95 L453.99,178.97 L454.86,179.00 L455.73,179.02 L456.60,179.05 L457.47,179.07 L458.34,179.09 L459.21,179.12 L460.08,179.14 L460.95,179.16 L461.82,179.19 L462.69,179.21 L463.56,179.23 L464.43,179.25 L465.30,179.28 L466.17,179.30" stroke="#0000ff" stroke-width="1.6" fill="none" stroke-dasharray="3.6 3 1.2 3.2"/>
<path d="M275.63,171.49 L276.50,171.26 L277.37,171.02 L278.24,170.78 L279.11,170.54 L279.98,170.30 L280.85,170.06 L281.72,169.81 L282.59,169.56 L283.46,169.31 L284.33,169.06 L285.20,168.80 L286.07,168.55 L286.94,168.29 L287.81,168.03 L288.68,167.76 L289.55,167.49 L290.42,167.22 L291.29,166.95 L292.16,166.67 L293.03,166.39 L293.90,166.10 L294.77,165.81 L295.64,165.52 L296.51,165.21 L297.38,164.90 L298.25,164.59 L299.12,164.26 L299.99,163.93 L300.86,163.59 L301.73,163.24 L302.60,162.88 L303.47,162.51 L304.34,162.12 L305.21,161.73 L306.08,161.32 L306.95,160.89 L307.82,160.45 L308.69,159.99 L309.56,159.52 L310.43,159.03 L311.30,158.52 L312.17,157.99 L313.04,157.44 L313.91,156.86 L314.78,156.27 L315.65,155.65 L316.52,155.01 L317.39,154.35 L318.26,153.66 L319.13,152.95 L320.00,152.22 L320.87,151.46 L321.74,150.67 L322.61,149.87 L323.48,149.04 L324.35,148.18 L325.22,147.31 L326.09,146.41 L326.96,145.49 L327.83,144.56 L328.70,143.61 L329.57,142.64 L330.44,141.66 L331.31,140.67 L332.18,139.67 L333.05,138.66 L333.92,137.65 L334.79,136.63 L335.66,135.62 L336.53,134.62 L337.40,133.62 L338.27,132.63 L339.14,131.66 L340.01,130.71 L340.88,129.77 L341.75,128.87 L342.62,127.99 L343.49,127.15 L344.36,126.34 L345.23,125.58 L346.10,124.85 L346.97,124.18 L347.84,123.55 L348.71,122.98 L349.58,122.47 L350.45,122.01 L351.32,121.62 L352.19,121.29 L353.06,121.03 L353.93,120.83 L354.80,120.71 L355.67,120.66 L356.54,120.68 L357.41,120.77 L358.28,120.94 L359.15,121.20 L360.02,121.63 L360.89,122.22 L361.76,122.96 L362.63,123.86 L363.50,124.90 L364.37,126.08 L365.24,127.39 L366.11,128.81 L366.98,130.33 L367.85,131.95 L368.72,133.65 L369.59,135.41 L370.46,137.23 L371.34,139.09 L372.21,140.97 L373.08,142.86 L373.95,144.76 L374.82,146.64 L375.69,148.51 L376.56,150.34 L377.43,152.14 L378.30,153.88 L379.17,155.58 L380.04,157.21 L380.91,158.77 L381.78,160.27 L382.65,161.69 L383.52,163.04 L384.39,164.32 L385.26,165.52 L386.13,166.64 L387.00,167.69 L387.87,168.67 L388.74,169.58 L389.61,170.43 L390.48,171.21 L391.35,171.93 L392.22,172.59 L393.09,173.20 L393.96,173.76 L394.83,174.27 L395.70,174.74 L396.57,175.17 L397.44,175.56 L398.31,175.92 L399.18,176.25 L400.05,176.55 L400.92,176.83 L401.79,177.08 L402.66,177.32 L403.53,177.53 L404.40,177.73 L405.27,177.92 L406.14,178.09 L407.01,178.25 L407.88,178.40 L408.75,178.54 L409.62,178.68 L410.49,178.80 L411.36,178.92 L412.23,179.03 L413.10,179.14 L413.97,179.24 L414.84,179.33 L415.71,179.43 L416.58,179.51 L417.45,179.60 L418.32,179.68 L419.19,179.76 L420.06,179.83 L420.93,179.90 L421.80,179.97 L422.67,180.03 L423.54,180.10 L424.41,180.16 L425.28,180.22 L426.15,180.27 L427.02,180.32 L427.89,180.38 L428.76,180.43 L429.63,180.47 L430.50,180.52 L431.37,180.56 L432.24,180.60 L433.11,180.64 L433.98,180.68 L434.85,180.72 L435.72,180.75 L436.59,180.79 L437.46,180.82 L438.33,180.85 L439.20,180.88 L440.07,180.90 L440.94,180.93 L441.81,180.96 L442.68,180.98 L443.55,181.00 L444.42,181.02 L445.29,181.05 L446.16,181.07 L447.03,181.08 L447.90,181.10 L448.77,181.12 L449.64,181.13 L450.51,181.15 L451.38,181.16 L452.25,181.18 L453.12,181.19 L453.99,181.20 L454.86,181.22 L455.73,181.23 L456.60,181.24 L457.47,181.25 L458.34,181.26 L459.21,181.27 L460.08,181.27 L460.95,181.28 L461.82,181.29 L462.69,181.30 L463.56,181.30 L464.43,181.31 L465.30,181.31 L466.17,181.32" stroke="#ff0000" stroke-width="1.6" fill="none" stroke-dasharray="3.6 2.8"/>
<path d="M275.63,164.64 L276.50,165.20 L277.37,165.74 L278.24,166.27 L279.11,166.79 L279.98,167.30 L280.85,167.78 L281.72,168.24 L282.59,168.68 L283.46,169.10 L284.33,169.48 L285.20,169.83 L286.07,170.17 L286.94,170.49 L287.81,170.81 L288.68,171.12 L289.55,171.42 L290.42,171.70 L291.29,171.98 L292.16,172.25 L293.03,172.51 L293.90,172.76 L294.77,173.00 L295.64,173.22 L296.51,173.44 L297.38,173.65 L298.25,173.85 L299.12,174.03 L299.99,174.21 L300.86,174.38 L301.73,174.56 L302.60,174.73 L303.47,174.91 L304.34,175.08 L305.21,175.25 L306.08,175.41 L306.95,175.56 L307.82,175.69 L308.69,175.81 L309.56,175.91 L310.43,175.99 L311.30,176.05 L312.17,176.08 L313.04,176.08 L313.91,176.02 L314.78,175.93 L315.65,175.81 L316.52,175.68 L317.39,175.57 L318.26,175.50 L319.13,175.48 L320.00,175.50 L320.87,175.54 L321.74,175.62 L322.61,175.71 L323.48,175.81 L324.35,175.93 L325.22,176.05 L326.09,176.17 L326.96,176.28 L327.83,176.39 L328.70,176.48 L329.57,176.56 L330.44,176.62 L331.31,176.67 L332.18,176.72 L333.05,176.76 L333.92,176.80 L334.79,176.84 L335.66,176.88 L336.53,176.92 L337.40,176.95 L338.27,176.99 L339.14,177.02 L340.01,177.05 L340.88,177.09 L341.75,177.12 L342.62,177.15 L343.49,177.18 L344.36,177.22 L345.23,177.25 L346.10,177.28 L346.97,177.32 L347.84,177.35 L348.71,177.38 L349.58,177.42 L350.45,177.45 L351.32,177.48 L352.19,177.52 L353.06,177.55 L353.93,177.58 L354.80,177.62 L355.67,177.65 L356.54,177.69 L357.41,177.72 L358.28,177.75 L359.15,177.79 L360.02,177.82 L360.89,177.85 L361.76,177.89 L362.63,177.92 L363.50,177.95 L364.37,177.98 L365.24,178.01 L366.11,178.05 L366.98,178.08 L367.85,178.11 L368.72,178.14 L369.59,178.17 L370.46,178.20 L371.34,178.23 L372.21,178.26 L373.08,178.29 L373.95,178.31 L374.82,178.34 L375.69,178.37 L376.56,178.40 L377.43,178.42 L378.30,178.45 L379.17,178.47 L380.04,178.50 L380.91,178.52 L381.78,178.55 L382.65,178.57 L383.52,178.59 L384.39,178.61 L385.26,178.63 L386.13,178.65 L387.00,178.67 L387.87,178.69 L388.74,178.71 L389.61,178.73 L390.48,178.74 L391.35,178.76 L392.22,178.78 L393.09,178.79 L393.96,178.80 L394.83,178.81 L395.70,178.83 L396.57,178.84 L397.44,178.85 L398.31,178.85 L399.18,178.86 L400.05,178.87 L400.92,178.87 L401.79,178.88 L402.66,178.89 L403.53,178.89 L404.40,178.90 L405.27,178.90 L406.14,178.91 L407.01,178.91 L407.88,178.92 L408.75,178.93 L409.62,178.93 L410.49,178.94 L411.36,178.94 L412.23,178.95 L413.10,178.95 L413.97,178.96 L414.84,178.96 L415.71,178.97 L416.58,178.97 L417.45,178.98 L418.32,178.98 L419.19,178.99 L420.06,178.99 L420.93,179.00 L421.80,179.00 L422.67,179.01 L423.54,179.01 L424.41,179.01 L425.28,179.02 L426.15,179.02 L427.02,179.03 L427.89,179.03 L428.76,179.03 L429.63,179.04 L430.50,179.04 L431.37,179.05 L432.24,179.05 L433.11,179.05 L433.98,179.06 L434.85,179.06 L435.72,179.06 L436.59,179.07 L437.46,179.07 L438.33,179.07 L439.20,179.08 L440.07,179.08 L440.94,179.08 L441.81,179.08 L442.68,179.09 L443.55,179.09 L444.42,179.09 L445.29,179.09 L446.16,179.10 L447.03,179.10 L447.90,179.10 L448.77,179.10 L449.64,179.10 L450.51,179.11 L451.38,179.11 L452.25,179.11 L453.12,179.11 L453.99,179.11 L454.86,179.11 L455.73,179.11 L456.60,179.12 L457.47,179.12 L458.34,179.12 L459.21,179.12 L460.08,179.12 L460.95,179.12 L461.82,179.12 L462.69,179.12 L463.56,179.12 L464.43,179.12 L465.30,179.12 L466.17,179.12" stroke="#ff00ff" stroke-width="1.6" fill="none"/>
<text transform="translate(267.00,185.45) scale(0.9,1)" text-anchor="end" class="tl">0</text>
<text transform="translate(267.00,160.13) scale(0.9,1)" text-anchor="end" class="tl">5</text>
<text transform="translate(267.00,134.81) scale(0.9,1)" text-anchor="end" class="tl">10</text>
<text transform="translate(267.00,109.49) scale(0.9,1)" text-anchor="end" class="tl">15</text>
<text transform="translate(267.00,84.16) scale(0.9,1)" text-anchor="end" class="tl">20</text>
<text transform="translate(267.00,58.84) scale(0.9,1)" text-anchor="end" class="tl">25</text>
<text transform="translate(267.00,33.52) scale(0.9,1)" text-anchor="end" class="tl">30</text>
<text transform="translate(267.00,8.20) scale(0.9,1)" text-anchor="end" class="tl">35</text>
<text transform="translate(271.30,194.00) scale(0.9,1)" text-anchor="middle" class="tl">-0.2</text>
<text transform="translate(314.60,194.00) scale(0.9,1)" text-anchor="middle" class="tl">-0.1</text>
<text transform="translate(357.90,194.00) scale(0.9,1)" text-anchor="middle" class="tl">0</text>
<text transform="translate(401.20,194.00) scale(0.9,1)" text-anchor="middle" class="tl">0.1</text>
<text transform="translate(444.50,194.00) scale(0.9,1)" text-anchor="middle" class="tl">0.2</text>
<text transform="translate(470.80,211.00) scale(0.94,1)" text-anchor="end" class="ti"><tspan font-style="normal" font-size="14.5">Δ</tspan>E (GeV)</text>
<text transform="translate(249.70,3.95) rotate(-90) scale(0.94,1)" text-anchor="end" class="ti">Events / 20 MeV</text>
</g>
<g id="P3">
<path d="M32.40,398.20h6.5 M32.40,394.26h3.3 M32.40,390.33h3.3 M32.40,386.39h3.3 M32.40,382.46h3.3 M32.40,378.52h6.5 M32.40,374.59h3.3 M32.40,370.65h3.3 M32.40,366.72h3.3 M32.40,362.78h3.3 M32.40,358.84h6.5 M32.40,354.91h3.3 M32.40,350.97h3.3 M32.40,347.04h3.3 M32.40,343.10h3.3 M32.40,339.17h6.5 M32.40,335.23h3.3 M32.40,331.30h3.3 M32.40,327.36h3.3 M32.40,323.42h3.3 M32.40,319.49h6.5 M32.40,315.55h3.3 M32.40,311.62h3.3 M32.40,307.68h3.3 M32.40,303.75h3.3 M32.40,299.81h6.5 M32.40,295.88h3.3 M32.40,291.94h3.3 M32.40,288.00h3.3 M32.40,284.07h3.3 M32.40,280.13h6.5 M32.40,276.20h3.3 M32.40,272.26h3.3 M32.40,268.33h3.3 M32.40,264.39h3.3 M32.40,260.46h6.5 M32.40,256.52h3.3 M32.40,252.58h3.3 M32.40,248.65h3.3 M32.40,244.71h3.3 M32.40,240.78h6.5 M32.40,236.84h3.3 M32.40,232.91h3.3 M32.40,228.97h3.3 M32.40,225.04h3.3 M32.40,221.10h6.5 M32.40,398.20v-3.3 M49.04,398.20v-3.3 M65.67,398.20v-6.5 M82.31,398.20v-3.3 M98.95,398.20v-3.3 M115.59,398.20v-3.3 M132.22,398.20v-6.5 M148.86,398.20v-3.3 M165.50,398.20v-3.3 M182.14,398.20v-3.3 M198.77,398.20v-6.5 M215.41,398.20v-3.3 M232.05,398.20v-3.3" stroke="#444" stroke-width="0.85" fill="none"/>
<rect x="32.40" y="221.10" width="199.10" height="177.10" fill="none" stroke="#111" stroke-width="1"/>
<path d="M35.72,264.89V295.38 M32.40,280.13H39.04 M42.35,283.79V311.90 M39.04,297.84H45.67 M48.99,279.58V308.23 M45.67,293.91H52.31 M55.63,283.79V311.90 M52.31,297.84H58.95 M62.27,277.48V306.40 M58.95,291.94H65.58 M68.90,294.34V321.03 M65.58,307.68H72.22 M75.54,241.91V275.07 M72.22,258.49H78.86 M82.17,302.80V328.31 M78.86,315.55H85.49 M88.81,279.58V308.23 M85.49,293.91H92.13 M95.45,285.90V313.73 M92.13,299.81H98.77 M102.09,281.69V310.07 M98.77,295.88H105.40 M108.72,330.54V351.73 M105.40,341.13H112.04 M115.36,254.43V286.16 M112.04,270.29H118.68 M122.00,294.34V321.03 M118.68,307.68H125.31 M128.63,296.45V322.85 M125.31,309.65H131.95 M135.27,269.08V299.06 M131.95,284.07H138.59 M141.91,279.58V308.23 M138.59,293.91H145.22 M148.54,290.11V317.38 M145.22,303.75H151.86 M155.18,298.57V324.67 M151.86,311.62H158.50 M161.81,300.68V326.49 M158.50,313.59H165.13 M168.45,294.34V321.03 M165.13,307.68H171.77 M175.09,319.82V342.77 M171.77,331.30H178.41 M181.72,294.34V321.03 M178.41,307.68H185.04 M188.36,279.58V308.23 M185.04,293.91H191.68 M195.00,292.22V319.20 M191.68,305.71H198.32 M201.64,281.69V310.07 M198.32,295.88H204.95 M208.27,307.04V331.93 M204.95,319.49H211.59 M214.91,343.50V362.38 M211.59,352.94H218.23 M221.55,367.77V381.40 M218.23,374.59H224.86 M228.18,391.48V397.05 M224.86,394.26H231.50" stroke="#1a1a1a" stroke-width="0.9" fill="none"/>
<path d="M35.72,295.88 L36.60,295.86 L37.48,295.86 L38.35,295.85 L39.23,295.84 L40.11,295.83 L40.99,295.83 L41.87,295.83 L42.75,295.82 L43.63,295.82 L44.51,295.82 L45.39,295.82 L46.26,295.83 L47.14,295.83 L48.02,295.84 L48.90,295.84 L49.78,295.85 L50.66,295.86 L51.54,295.87 L52.42,295.88 L53.29,295.89 L54.17,295.91 L55.05,295.92 L55.93,295.94 L56.81,295.96 L57.69,295.99 L58.57,296.01 L59.45,296.04 L60.33,296.07 L61.20,296.10 L62.08,296.13 L62.96,296.17 L63.84,296.21 L64.72,296.26 L65.60,296.30 L66.48,296.35 L67.36,296.41 L68.23,296.46 L69.11,296.52 L69.99,296.58 L70.87,296.65 L71.75,296.71 L72.63,296.79 L73.51,296.86 L74.39,296.93 L75.27,297.01 L76.14,297.09 L77.02,297.18 L77.90,297.26 L78.78,297.35 L79.66,297.44 L80.54,297.53 L81.42,297.63 L82.30,297.73 L83.18,297.83 L84.05,297.93 L84.93,298.03 L85.81,298.14 L86.69,298.25 L87.57,298.36 L88.45,298.47 L89.33,298.58 L90.21,298.69 L91.08,298.81 L91.96,298.92 L92.84,299.04 L93.72,299.15 L94.60,299.27 L95.48,299.39 L96.36,299.51 L97.24,299.63 L98.12,299.75 L98.99,299.87 L99.87,299.99 L100.75,300.11 L101.63,300.23 L102.51,300.34 L103.39,300.46 L104.27,300.58 L105.15,300.70 L106.02,300.81 L106.90,300.93 L107.78,301.05 L108.66,301.16 L109.54,301.27 L110.42,301.39 L111.30,301.50 L112.18,301.62 L113.06,301.73 L113.93,301.85 L114.81,301.96 L115.69,302.08 L116.57,302.19 L117.45,302.31 L118.33,302.43 L119.21,302.55 L120.09,302.67 L120.96,302.78 L121.84,302.89 L122.72,303.00 L123.60,303.10 L124.48,303.21 L125.36,303.31 L126.24,303.42 L127.12,303.53 L128.00,303.65 L128.87,303.77 L129.75,303.91 L130.63,304.06 L131.51,304.21 L132.39,304.39 L133.27,304.61 L134.15,304.87 L135.03,305.16 L135.90,305.47 L136.78,305.80 L137.66,306.14 L138.54,306.49 L139.42,306.83 L140.30,307.16 L141.18,307.47 L142.06,307.75 L142.94,308.00 L143.81,308.23 L144.69,308.45 L145.57,308.68 L146.45,308.90 L147.33,309.12 L148.21,309.34 L149.09,309.57 L149.97,309.79 L150.84,310.02 L151.72,310.24 L152.60,310.47 L153.48,310.71 L154.36,310.95 L155.24,311.19 L156.12,311.43 L157.00,311.67 L157.88,311.90 L158.75,312.14 L159.63,312.37 L160.51,312.59 L161.39,312.81 L162.27,313.02 L163.15,313.22 L164.03,313.42 L164.91,313.59 L165.78,313.75 L166.66,313.88 L167.54,313.99 L168.42,314.07 L169.30,314.11 L170.18,314.10 L171.06,314.04 L171.94,313.91 L172.82,313.71 L173.69,313.42 L174.57,313.05 L175.45,312.58 L176.33,312.03 L177.21,311.38 L178.09,310.64 L178.97,309.79 L179.85,308.84 L180.72,307.79 L181.60,306.63 L182.48,305.38 L183.36,304.04 L184.24,302.62 L185.12,301.15 L186.00,299.63 L186.88,298.09 L187.76,296.55 L188.63,295.03 L189.51,293.58 L190.39,292.21 L191.27,290.96 L192.15,289.87 L193.03,288.97 L193.91,288.28 L194.79,287.86 L195.67,287.74 L196.54,287.94 L197.42,288.46 L198.30,289.32 L199.18,290.53 L200.06,292.12 L200.94,294.08 L201.82,296.38 L202.70,298.98 L203.57,301.85 L204.45,304.95 L205.33,308.22 L206.21,311.62 L207.09,315.12 L207.97,318.66 L208.85,322.23 L209.73,325.78 L210.61,329.28 L211.48,332.73 L212.36,336.11 L213.24,339.40 L214.12,342.60 L215.00,345.69 L215.88,348.66 L216.76,351.50 L217.64,354.23 L218.51,356.87 L219.39,359.45 L220.27,362.01 L221.15,364.58 L222.03,367.18 L222.91,369.90 L223.79,372.76 L224.67,375.74 L225.55,378.84 L226.42,382.05 L227.30,385.35 L228.18,388.74" stroke="#000" stroke-width="1.7" fill="none" stroke-linejoin="round"/>
<path d="M35.72,312.21 L36.60,312.25 L37.48,312.30 L38.35,312.35 L39.23,312.39 L40.11,312.44 L40.99,312.49 L41.87,312.54 L42.75,312.59 L43.63,312.65 L44.51,312.70 L45.39,312.76 L46.26,312.81 L47.14,312.87 L48.02,312.93 L48.90,312.99 L49.78,313.04 L50.66,313.10 L51.54,313.17 L52.42,313.23 L53.29,313.29 L54.17,313.36 L55.05,313.42 L55.93,313.49 L56.81,313.55 L57.69,313.62 L58.57,313.69 L59.45,313.76 L60.33,313.83 L61.20,313.90 L62.08,313.97 L62.96,314.04 L63.84,314.11 L64.72,314.18 L65.60,314.26 L66.48,314.33 L67.36,314.41 L68.23,314.48 L69.11,314.56 L69.99,314.64 L70.87,314.71 L71.75,314.79 L72.63,314.87 L73.51,314.95 L74.39,315.03 L75.27,315.11 L76.14,315.19 L77.02,315.27 L77.90,315.36 L78.78,315.44 L79.66,315.52 L80.54,315.60 L81.42,315.69 L82.30,315.77 L83.18,315.86 L84.05,315.95 L84.93,316.03 L85.81,316.12 L86.69,316.21 L87.57,316.30 L88.45,316.39 L89.33,316.48 L90.21,316.58 L91.08,316.67 L91.96,316.76 L92.84,316.86 L93.72,316.96 L94.60,317.05 L95.48,317.15 L96.36,317.25 L97.24,317.35 L98.12,317.45 L98.99,317.56 L99.87,317.66 L100.75,317.77 L101.63,317.87 L102.51,317.98 L103.39,318.09 L104.27,318.20 L105.15,318.31 L106.02,318.42 L106.90,318.54 L107.78,318.65 L108.66,318.77 L109.54,318.88 L110.42,319.00 L111.30,319.12 L112.18,319.25 L113.06,319.37 L113.93,319.49 L114.81,319.62 L115.69,319.75 L116.57,319.88 L117.45,320.01 L118.33,320.14 L119.21,320.27 L120.09,320.41 L120.96,320.54 L121.84,320.68 L122.72,320.82 L123.60,320.96 L124.48,321.11 L125.36,321.25 L126.24,321.40 L127.12,321.55 L128.00,321.70 L128.87,321.85 L129.75,322.00 L130.63,322.16 L131.51,322.32 L132.39,322.48 L133.27,322.64 L134.15,322.80 L135.03,322.97 L135.90,323.14 L136.78,323.31 L137.66,323.48 L138.54,323.66 L139.42,323.84 L140.30,324.02 L141.18,324.20 L142.06,324.39 L142.94,324.58 L143.81,324.77 L144.69,324.97 L145.57,325.17 L146.45,325.37 L147.33,325.58 L148.21,325.79 L149.09,326.00 L149.97,326.22 L150.84,326.43 L151.72,326.66 L152.60,326.89 L153.48,327.12 L154.36,327.35 L155.24,327.59 L156.12,327.83 L157.00,328.08 L157.88,328.33 L158.75,328.59 L159.63,328.85 L160.51,329.11 L161.39,329.38 L162.27,329.65 L163.15,329.93 L164.03,330.22 L164.91,330.50 L165.78,330.79 L166.66,331.09 L167.54,331.39 L168.42,331.70 L169.30,332.01 L170.18,332.33 L171.06,332.65 L171.94,332.98 L172.82,333.31 L173.69,333.65 L174.57,334.00 L175.45,334.35 L176.33,334.72 L177.21,335.12 L178.09,335.54 L178.97,335.99 L179.85,336.46 L180.72,336.95 L181.60,337.46 L182.48,337.99 L183.36,338.53 L184.24,339.09 L185.12,339.67 L186.00,340.26 L186.88,340.87 L187.76,341.48 L188.63,342.11 L189.51,342.74 L190.39,343.39 L191.27,344.04 L192.15,344.69 L193.03,345.35 L193.91,346.01 L194.79,346.71 L195.67,347.43 L196.54,348.18 L197.42,348.96 L198.30,349.77 L199.18,350.58 L200.06,351.42 L200.94,352.26 L201.82,353.11 L202.70,353.96 L203.57,354.80 L204.45,355.65 L205.33,356.48 L206.21,357.30 L207.09,358.12 L207.97,358.95 L208.85,359.78 L209.73,360.63 L210.61,361.49 L211.48,362.38 L212.36,363.29 L213.24,364.24 L214.12,365.22 L215.00,366.24 L215.88,367.29 L216.76,368.36 L217.64,369.46 L218.51,370.63 L219.39,371.87 L220.27,373.20 L221.15,374.64 L222.03,376.21 L222.91,377.97 L223.79,379.94 L224.67,382.10 L225.55,384.44 L226.42,386.94 L227.30,389.57 L228.18,392.33" stroke="#00ff00" stroke-width="1.9" fill="none" stroke-dasharray="1.2 1.7"/>
<path d="M35.72,382.85 L36.60,382.86 L37.48,382.87 L38.35,382.88 L39.23,382.89 L40.11,382.90 L40.99,382.91 L41.87,382.92 L42.75,382.93 L43.63,382.94 L44.51,382.94 L45.39,382.95 L46.26,382.96 L47.14,382.97 L48.02,382.98 L48.90,382.99 L49.78,383.00 L50.66,383.01 L51.54,383.02 L52.42,383.03 L53.29,383.04 L54.17,383.05 L55.05,383.06 L55.93,383.07 L56.81,383.08 L57.69,383.10 L58.57,383.11 L59.45,383.12 L60.33,383.13 L61.20,383.14 L62.08,383.15 L62.96,383.16 L63.84,383.17 L64.72,383.18 L65.60,383.19 L66.48,383.20 L67.36,383.21 L68.23,383.22 L69.11,383.24 L69.99,383.25 L70.87,383.26 L71.75,383.27 L72.63,383.28 L73.51,383.29 L74.39,383.30 L75.27,383.31 L76.14,383.33 L77.02,383.34 L77.90,383.35 L78.78,383.36 L79.66,383.37 L80.54,383.38 L81.42,383.39 L82.30,383.41 L83.18,383.42 L84.05,383.43 L84.93,383.44 L85.81,383.45 L86.69,383.46 L87.57,383.48 L88.45,383.49 L89.33,383.50 L90.21,383.51 L91.08,383.52 L91.96,383.54 L92.84,383.55 L93.72,383.56 L94.60,383.57 L95.48,383.58 L96.36,383.60 L97.24,383.61 L98.12,383.62 L98.99,383.63 L99.87,383.65 L100.75,383.66 L101.63,383.67 L102.51,383.68 L103.39,383.70 L104.27,383.71 L105.15,383.72 L106.02,383.73 L106.90,383.75 L107.78,383.76 L108.66,383.77 L109.54,383.78 L110.42,383.80 L111.30,383.81 L112.18,383.82 L113.06,383.83 L113.93,383.85 L114.81,383.86 L115.69,383.87 L116.57,383.88 L117.45,383.90 L118.33,383.91 L119.21,383.92 L120.09,383.93 L120.96,383.95 L121.84,383.96 L122.72,383.97 L123.60,383.98 L124.48,384.00 L125.36,384.01 L126.24,384.02 L127.12,384.04 L128.00,384.05 L128.87,384.07 L129.75,384.09 L130.63,384.11 L131.51,384.13 L132.39,384.15 L133.27,384.17 L134.15,384.20 L135.03,384.23 L135.90,384.26 L136.78,384.29 L137.66,384.32 L138.54,384.35 L139.42,384.39 L140.30,384.42 L141.18,384.46 L142.06,384.50 L142.94,384.54 L143.81,384.58 L144.69,384.62 L145.57,384.67 L146.45,384.71 L147.33,384.76 L148.21,384.81 L149.09,384.86 L149.97,384.91 L150.84,384.96 L151.72,385.01 L152.60,385.06 L153.48,385.12 L154.36,385.17 L155.24,385.23 L156.12,385.29 L157.00,385.35 L157.88,385.41 L158.75,385.47 L159.63,385.53 L160.51,385.59 L161.39,385.66 L162.27,385.72 L163.15,385.79 L164.03,385.85 L164.91,385.92 L165.78,385.99 L166.66,386.06 L167.54,386.13 L168.42,386.20 L169.30,386.27 L170.18,386.34 L171.06,386.41 L171.94,386.49 L172.82,386.56 L173.69,386.64 L174.57,386.71 L175.45,386.79 L176.33,386.86 L177.21,386.94 L178.09,387.02 L178.97,387.10 L179.85,387.17 L180.72,387.25 L181.60,387.34 L182.48,387.42 L183.36,387.51 L184.24,387.61 L185.12,387.72 L186.00,387.83 L186.88,387.94 L187.76,388.05 L188.63,388.18 L189.51,388.30 L190.39,388.43 L191.27,388.55 L192.15,388.69 L193.03,388.82 L193.91,388.95 L194.79,389.09 L195.67,389.23 L196.54,389.36 L197.42,389.50 L198.30,389.64 L199.18,389.77 L200.06,389.90 L200.94,390.04 L201.82,390.17 L202.70,390.30 L203.57,390.42 L204.45,390.55 L205.33,390.66 L206.21,390.78 L207.09,390.89 L207.97,390.99 L208.85,391.09 L209.73,391.20 L210.61,391.30 L211.48,391.40 L212.36,391.51 L213.24,391.62 L214.12,391.74 L215.00,391.87 L215.88,392.00 L216.76,392.14 L217.64,392.29 L218.51,392.46 L219.39,392.63 L220.27,392.83 L221.15,393.07 L222.03,393.33 L222.91,393.61 L223.79,393.92 L224.67,394.24 L225.55,394.58 L226.42,394.93 L227.30,395.29 L228.18,395.66" stroke="#0000ff" stroke-width="1.6" fill="none" stroke-dasharray="3.6 3 1.2 3.2"/>
<path d="M35.72,398.20 L36.60,398.20 L37.48,398.20 L38.35,398.20 L39.23,398.20 L40.11,398.20 L40.99,398.20 L41.87,398.20 L42.75,398.20 L43.63,398.20 L44.51,398.20 L45.39,398.20 L46.26,398.20 L47.14,398.20 L48.02,398.20 L48.90,398.20 L49.78,398.20 L50.66,398.20 L51.54,398.20 L52.42,398.20 L53.29,398.20 L54.17,398.20 L55.05,398.20 L55.93,398.20 L56.81,398.20 L57.69,398.20 L58.57,398.20 L59.45,398.20 L60.33,398.20 L61.20,398.20 L62.08,398.20 L62.96,398.20 L63.84,398.20 L64.72,398.20 L65.60,398.20 L66.48,398.20 L67.36,398.20 L68.23,398.20 L69.11,398.20 L69.99,398.20 L70.87,398.20 L71.75,398.20 L72.63,398.20 L73.51,398.20 L74.39,398.20 L75.27,398.20 L76.14,398.20 L77.02,398.20 L77.90,398.20 L78.78,398.20 L79.66,398.20 L80.54,398.20 L81.42,398.20 L82.30,398.20 L83.18,398.20 L84.05,398.20 L84.93,398.20 L85.81,398.20 L86.69,398.20 L87.57,398.20 L88.45,398.20 L89.33,398.20 L90.21,398.20 L91.08,398.20 L91.96,398.20 L92.84,398.20 L93.72,398.20 L94.60,398.20 L95.48,398.20 L96.36,398.20 L97.24,398.20 L98.12,398.20 L98.99,398.20 L99.87,398.20 L100.75,398.20 L101.63,398.20 L102.51,398.20 L103.39,398.20 L104.27,398.20 L105.15,398.20 L106.02,398.20 L106.90,398.20 L107.78,398.20 L108.66,398.20 L109.54,398.20 L110.42,398.20 L111.30,398.20 L112.18,398.20 L113.06,398.20 L113.93,398.20 L114.81,398.20 L115.69,398.20 L116.57,398.20 L117.45,398.20 L118.33,398.20 L119.21,398.20 L120.09,398.20 L120.96,398.20 L121.84,398.20 L122.72,398.20 L123.60,398.20 L124.48,398.20 L125.36,398.20 L126.24,398.20 L127.12,398.20 L128.00,398.20 L128.87,398.20 L129.75,398.20 L130.63,398.20 L131.51,398.20 L132.39,398.20 L133.27,398.20 L134.15,398.20 L135.03,398.20 L135.90,398.20 L136.78,398.20 L137.66,398.20 L138.54,398.20 L139.42,398.20 L140.30,398.20 L141.18,398.20 L142.06,398.20 L142.94,398.20 L143.81,398.20 L144.69,398.20 L145.57,398.20 L146.45,398.20 L147.33,398.20 L148.21,398.20 L149.09,398.20 L149.97,398.20 L150.84,398.20 L151.72,398.20 L152.60,398.19 L153.48,398.19 L154.36,398.19 L155.24,398.18 L156.12,398.18 L157.00,398.17 L157.88,398.16 L158.75,398.14 L159.63,398.12 L160.51,398.09 L161.39,398.06 L162.27,398.02 L163.15,397.96 L164.03,397.89 L164.91,397.80 L165.78,397.69 L166.66,397.55 L167.54,397.38 L168.42,397.18 L169.30,396.93 L170.18,396.63 L171.06,396.26 L171.94,395.84 L172.82,395.33 L173.69,394.74 L174.57,394.06 L175.45,393.28 L176.33,392.38 L177.21,391.36 L178.09,390.23 L178.97,388.96 L179.85,387.55 L180.72,386.02 L181.60,384.35 L182.48,382.56 L183.36,380.65 L184.24,378.63 L185.12,376.53 L186.00,374.35 L186.88,372.12 L187.76,369.87 L188.63,367.63 L189.51,365.42 L190.39,363.28 L191.27,361.24 L192.15,359.34 L193.03,357.60 L193.91,356.07 L194.79,354.75 L195.67,353.69 L196.54,352.89 L197.42,352.38 L198.30,352.16 L199.18,352.26 L200.06,352.70 L200.94,353.48 L201.82,354.57 L202.70,355.96 L203.57,357.61 L204.45,359.50 L205.33,361.57 L206.21,363.79 L207.09,366.13 L207.97,368.53 L208.85,370.96 L209.73,373.37 L210.61,375.75 L211.48,378.05 L212.36,380.25 L213.24,382.33 L214.12,384.27 L215.00,386.07 L215.88,387.72 L216.76,389.21 L217.64,390.55 L218.51,391.74 L219.39,392.78 L220.27,393.69 L221.15,394.48 L222.03,395.15 L222.91,395.72 L223.79,396.20 L224.67,396.59 L225.55,396.92 L226.42,397.19 L227.30,397.41 L228.18,397.59" stroke="#ff0000" stroke-width="1.6" fill="none" stroke-dasharray="3.6 2.8"/>
<path d="M35.72,396.68 L36.60,396.68 L37.48,396.68 L38.35,396.68 L39.23,396.68 L40.11,396.68 L40.99,396.68 L41.87,396.68 L42.75,396.68 L43.63,396.68 L44.51,396.68 L45.39,396.68 L46.26,396.68 L47.14,396.68 L48.02,396.68 L48.90,396.68 L49.78,396.68 L50.66,396.68 L51.54,396.68 L52.42,396.68 L53.29,396.67 L54.17,396.67 L55.05,396.67 L55.93,396.67 L56.81,396.67 L57.69,396.67 L58.57,396.67 L59.45,396.67 L60.33,396.66 L61.20,396.66 L62.08,396.66 L62.96,396.66 L63.84,396.66 L64.72,396.66 L65.60,396.66 L66.48,396.65 L67.36,396.65 L68.23,396.65 L69.11,396.65 L69.99,396.65 L70.87,396.65 L71.75,396.64 L72.63,396.64 L73.51,396.64 L74.39,396.64 L75.27,396.64 L76.14,396.63 L77.02,396.63 L77.90,396.63 L78.78,396.63 L79.66,396.63 L80.54,396.62 L81.42,396.62 L82.30,396.62 L83.18,396.62 L84.05,396.61 L84.93,396.61 L85.81,396.61 L86.69,396.60 L87.57,396.60 L88.45,396.59 L89.33,396.59 L90.21,396.58 L91.08,396.58 L91.96,396.57 L92.84,396.56 L93.72,396.56 L94.60,396.55 L95.48,396.54 L96.36,396.53 L97.24,396.53 L98.12,396.52 L98.99,396.51 L99.87,396.50 L100.75,396.49 L101.63,396.48 L102.51,396.47 L103.39,396.47 L104.27,396.46 L105.15,396.44 L106.02,396.43 L106.90,396.42 L107.78,396.41 L108.66,396.40 L109.54,396.39 L110.42,396.38 L111.30,396.37 L112.18,396.35 L113.06,396.34 L113.93,396.33 L114.81,396.31 L115.69,396.30 L116.57,396.29 L117.45,396.27 L118.33,396.26 L119.21,396.25 L120.09,396.23 L120.96,396.21 L121.84,396.19 L122.72,396.15 L123.60,396.12 L124.48,396.08 L125.36,396.04 L126.24,396.00 L127.12,395.96 L128.00,395.93 L128.87,395.89 L129.75,395.87 L130.63,395.85 L131.51,395.84 L132.39,395.84 L133.27,395.88 L134.15,395.96 L135.03,396.06 L135.90,396.18 L136.78,396.31 L137.66,396.46 L138.54,396.59 L139.42,396.73 L140.30,396.84 L141.18,396.93 L142.06,396.99 L142.94,397.02 L143.81,397.02 L144.69,397.01 L145.57,396.99 L146.45,396.97 L147.33,396.95 L148.21,396.92 L149.09,396.88 L149.97,396.85 L150.84,396.81 L151.72,396.77 L152.60,396.73 L153.48,396.69 L154.36,396.65 L155.24,396.62 L156.12,396.57 L157.00,396.53 L157.88,396.48 L158.75,396.43 L159.63,396.37 L160.51,396.31 L161.39,396.25 L162.27,396.19 L163.15,396.13 L164.03,396.07 L164.91,396.00 L165.78,395.94 L166.66,395.87 L167.54,395.81 L168.42,395.75 L169.30,395.69 L170.18,395.63 L171.06,395.57 L171.94,395.51 L172.82,395.45 L173.69,395.38 L174.57,395.32 L175.45,395.25 L176.33,395.19 L177.21,395.12 L178.09,395.06 L178.97,395.00 L179.85,394.94 L180.72,394.88 L181.60,394.83 L182.48,394.78 L183.36,394.73 L184.24,394.69 L185.12,394.65 L186.00,394.62 L186.88,394.58 L187.76,394.54 L188.63,394.51 L189.51,394.47 L190.39,394.44 L191.27,394.40 L192.15,394.37 L193.03,394.34 L193.91,394.32 L194.79,394.30 L195.67,394.28 L196.54,394.27 L197.42,394.27 L198.30,394.27 L199.18,394.28 L200.06,394.32 L200.94,394.38 L201.82,394.45 L202.70,394.54 L203.57,394.63 L204.45,394.74 L205.33,394.85 L206.21,394.96 L207.09,395.08 L207.97,395.19 L208.85,395.31 L209.73,395.41 L210.61,395.52 L211.48,395.63 L212.36,395.75 L213.24,395.87 L214.12,395.99 L215.00,396.12 L215.88,396.25 L216.76,396.38 L217.64,396.51 L218.51,396.63 L219.39,396.75 L220.27,396.86 L221.15,396.96 L222.03,397.07 L222.91,397.18 L223.79,397.28 L224.67,397.38 L225.55,397.48 L226.42,397.57 L227.30,397.67 L228.18,397.76" stroke="#ff00ff" stroke-width="1.6" fill="none"/>
<text transform="translate(28.10,402.25) scale(0.9,1)" text-anchor="end" class="tl">0</text>
<text transform="translate(28.10,382.57) scale(0.9,1)" text-anchor="end" class="tl">10</text>
<text transform="translate(28.10,362.89) scale(0.9,1)" text-anchor="end" class="tl">20</text>
<text transform="translate(28.10,343.22) scale(0.9,1)" text-anchor="end" class="tl">30</text>
<text transform="translate(28.10,323.54) scale(0.9,1)" text-anchor="end" class="tl">40</text>
<text transform="translate(28.10,303.86) scale(0.9,1)" text-anchor="end" class="tl">50</text>
<text transform="translate(28.10,284.18) scale(0.9,1)" text-anchor="end" class="tl">60</text>
<text transform="translate(28.10,264.51) scale(0.9,1)" text-anchor="end" class="tl">70</text>
<text transform="translate(28.10,244.83) scale(0.9,1)" text-anchor="end" class="tl">80</text>
<text transform="translate(28.10,225.15) scale(0.9,1)" text-anchor="end" class="tl">90</text>
<text transform="translate(65.67,411.00) scale(0.9,1)" text-anchor="middle" class="tl">5.24</text>
<text transform="translate(132.22,411.00) scale(0.9,1)" text-anchor="middle" class="tl">5.26</text>
<text transform="translate(198.77,411.00) scale(0.9,1)" text-anchor="middle" class="tl">5.28</text>
<text transform="translate(232.00,427.40) scale(0.94,1)" text-anchor="end" class="ti">M<tspan font-size="10.6" dy="5.8">bc</tspan><tspan dy="-5.8"> (GeV/c</tspan><tspan font-size="10.6" dy="-6" dx="0.5">2</tspan><tspan dy="6" dx="0.6">)</tspan></text>
<text transform="translate(10.80,220.90) rotate(-90) scale(0.94,1)" text-anchor="end" class="ti">Events / 2 MeV</text>
</g>
<g id="P4">
<path d="M271.30,398.20h6.5 M271.30,393.14h3.3 M271.30,388.08h3.3 M271.30,383.02h3.3 M271.30,377.96h3.3 M271.30,372.90h6.5 M271.30,367.84h3.3 M271.30,362.78h3.3 M271.30,357.72h3.3 M271.30,352.66h3.3 M271.30,347.60h6.5 M271.30,342.54h3.3 M271.30,337.48h3.3 M271.30,332.42h3.3 M271.30,327.36h3.3 M271.30,322.30h6.5 M271.30,317.24h3.3 M271.30,312.18h3.3 M271.30,307.12h3.3 M271.30,302.06h3.3 M271.30,297.00h6.5 M271.30,291.94h3.3 M271.30,286.88h3.3 M271.30,281.82h3.3 M271.30,276.76h3.3 M271.30,271.70h6.5 M271.30,266.64h3.3 M271.30,261.58h3.3 M271.30,256.52h3.3 M271.30,251.46h3.3 M271.30,246.40h6.5 M271.30,241.34h3.3 M271.30,236.28h3.3 M271.30,231.22h3.3 M271.30,226.16h3.3 M271.30,221.10h6.5 M271.30,398.20v-6.5 M279.96,398.20v-3.3 M288.62,398.20v-3.3 M297.28,398.20v-3.3 M305.94,398.20v-3.3 M314.60,398.20v-6.5 M323.26,398.20v-3.3 M331.92,398.20v-3.3 M340.58,398.20v-3.3 M349.24,398.20v-3.3 M357.90,398.20v-6.5 M366.56,398.20v-3.3 M375.22,398.20v-3.3 M383.88,398.20v-3.3 M392.54,398.20v-3.3 M401.20,398.20v-6.5 M409.86,398.20v-3.3 M418.52,398.20v-3.3 M427.18,398.20v-3.3 M435.84,398.20v-3.3 M444.50,398.20v-6.5 M453.16,398.20v-3.3 M461.82,398.20v-3.3 M470.48,398.20v-3.3" stroke="#444" stroke-width="0.85" fill="none"/>
<rect x="271.30" y="221.10" width="199.20" height="177.10" fill="none" stroke="#111" stroke-width="1"/>
<path d="M275.63,253.81V289.59 M271.30,271.70H279.96 M284.29,256.52V291.94 M279.96,274.23H288.62 M292.95,270.10V303.66 M288.62,286.88H297.28 M301.61,291.94V322.30 M297.28,307.12H305.94 M310.27,248.40V284.88 M305.94,266.64H314.60 M318.93,283.73V315.33 M314.60,299.53H323.27 M327.60,311.21V338.45 M323.27,324.83H331.93 M336.26,291.94V322.30 M331.93,307.12H340.59 M344.92,253.81V289.59 M340.59,271.70H349.25 M353.58,283.73V315.33 M349.25,299.53H357.91 M362.24,294.68V324.62 M357.91,309.65H366.57 M370.90,294.68V324.62 M366.57,309.65H375.23 M379.56,322.30V347.60 M375.23,334.95H383.89 M388.22,319.52V345.32 M383.89,332.42H392.55 M396.88,311.21V338.45 M392.55,324.83H401.21 M405.54,325.09V349.87 M401.21,337.48H409.87 M414.20,339.10V361.16 M409.87,350.13H418.53 M422.87,333.48V356.66 M418.53,345.07H427.20 M431.53,325.09V349.87 M427.20,337.48H435.86 M440.19,339.10V361.16 M435.86,350.13H444.52 M448.85,322.30V347.60 M444.52,334.95H453.18 M457.51,330.67V354.41 M453.18,342.54H461.84 M466.17,322.30V347.60 M461.84,334.95H470.50" stroke="#1a1a1a" stroke-width="0.9" fill="none"/>
<path d="M275.63,288.40 L276.50,288.98 L277.37,289.55 L278.24,290.10 L279.11,290.65 L279.98,291.18 L280.85,291.71 L281.72,292.22 L282.59,292.72 L283.46,293.21 L284.33,293.69 L285.20,294.16 L286.07,294.61 L286.94,295.06 L287.81,295.50 L288.68,295.93 L289.55,296.35 L290.42,296.75 L291.29,297.14 L292.16,297.52 L293.03,297.88 L293.90,298.23 L294.77,298.57 L295.64,298.92 L296.51,299.28 L297.38,299.63 L298.25,299.98 L299.12,300.31 L299.99,300.64 L300.86,300.95 L301.73,301.23 L302.60,301.49 L303.47,301.73 L304.34,301.93 L305.21,302.09 L306.08,302.22 L306.95,302.30 L307.82,302.33 L308.69,302.31 L309.56,302.24 L310.43,302.16 L311.30,302.06 L312.17,301.93 L313.04,301.79 L313.91,301.63 L314.78,301.46 L315.65,301.26 L316.52,301.05 L317.39,300.82 L318.26,300.57 L319.13,300.31 L320.00,300.04 L320.87,299.75 L321.74,299.45 L322.61,299.13 L323.48,298.81 L324.35,298.47 L325.22,298.14 L326.09,297.81 L326.96,297.48 L327.83,297.15 L328.70,296.81 L329.57,296.48 L330.44,296.14 L331.31,295.79 L332.18,295.45 L333.05,295.10 L333.92,294.75 L334.79,294.39 L335.66,294.03 L336.53,293.66 L337.40,293.30 L338.27,292.93 L339.14,292.56 L340.01,292.18 L340.88,291.82 L341.75,291.47 L342.62,291.13 L343.49,290.82 L344.36,290.54 L345.23,290.28 L346.10,290.06 L346.97,289.86 L347.84,289.71 L348.71,289.59 L349.58,289.51 L350.45,289.48 L351.32,289.49 L352.19,289.56 L353.06,289.67 L353.93,289.83 L354.80,290.05 L355.67,290.32 L356.54,290.64 L357.41,291.01 L358.28,291.43 L359.15,291.92 L360.02,292.51 L360.89,293.20 L361.76,293.99 L362.63,294.88 L363.50,295.86 L364.37,296.92 L365.24,298.06 L366.11,299.26 L366.98,300.52 L367.85,301.83 L368.72,303.19 L369.59,304.58 L370.46,306.00 L371.34,307.44 L372.21,308.88 L373.08,310.33 L373.95,311.77 L374.82,313.19 L375.69,314.59 L376.56,315.96 L377.43,317.29 L378.30,318.58 L379.17,319.82 L380.04,321.02 L380.91,322.15 L381.78,323.23 L382.65,324.25 L383.52,325.21 L384.39,326.11 L385.26,326.94 L386.13,327.72 L387.00,328.43 L387.87,329.08 L388.74,329.67 L389.61,330.20 L390.48,330.69 L391.35,331.13 L392.22,331.53 L393.09,331.89 L393.96,332.23 L394.83,332.55 L395.70,332.85 L396.57,333.13 L397.44,333.41 L398.31,333.69 L399.18,333.96 L400.05,334.23 L400.92,334.49 L401.79,334.75 L402.66,335.00 L403.53,335.24 L404.40,335.47 L405.27,335.70 L406.14,335.91 L407.01,336.11 L407.88,336.31 L408.75,336.50 L409.62,336.68 L410.49,336.86 L411.36,337.03 L412.23,337.19 L413.10,337.35 L413.97,337.51 L414.84,337.67 L415.71,337.82 L416.58,337.97 L417.45,338.11 L418.32,338.26 L419.19,338.40 L420.06,338.55 L420.93,338.69 L421.80,338.83 L422.67,338.97 L423.54,339.11 L424.41,339.25 L425.28,339.39 L426.15,339.53 L427.02,339.67 L427.89,339.80 L428.76,339.94 L429.63,340.08 L430.50,340.22 L431.37,340.35 L432.24,340.49 L433.11,340.63 L433.98,340.77 L434.85,340.90 L435.72,341.04 L436.59,341.18 L437.46,341.32 L438.33,341.45 L439.20,341.59 L440.07,341.73 L440.94,341.86 L441.81,342.00 L442.68,342.14 L443.55,342.28 L444.42,342.41 L445.29,342.55 L446.16,342.69 L447.03,342.82 L447.90,342.96 L448.77,343.10 L449.64,343.23 L450.51,343.37 L451.38,343.51 L452.25,343.64 L453.12,343.78 L453.99,343.91 L454.86,344.05 L455.73,344.19 L456.60,344.32 L457.47,344.46 L458.34,344.59 L459.21,344.72 L460.08,344.86 L460.95,344.99 L461.82,345.13 L462.69,345.26 L463.56,345.39 L464.43,345.52 L465.30,345.65 L466.17,345.79" stroke="#000" stroke-width="1.7" fill="none" stroke-linejoin="round"/>
<path d="M275.63,335.20 L276.50,335.28 L277.37,335.37 L278.24,335.46 L279.11,335.55 L279.98,335.63 L280.85,335.72 L281.72,335.81 L282.59,335.90 L283.46,335.98 L284.33,336.07 L285.20,336.16 L286.07,336.24 L286.94,336.33 L287.81,336.42 L288.68,336.51 L289.55,336.59 L290.42,336.68 L291.29,336.77 L292.16,336.86 L293.03,336.94 L293.90,337.03 L294.77,337.12 L295.64,337.21 L296.51,337.29 L297.38,337.38 L298.25,337.47 L299.12,337.56 L299.99,337.64 L300.86,337.73 L301.73,337.82 L302.60,337.91 L303.47,337.99 L304.34,338.08 L305.21,338.17 L306.08,338.25 L306.95,338.34 L307.82,338.43 L308.69,338.52 L309.56,338.60 L310.43,338.69 L311.30,338.78 L312.17,338.87 L313.04,338.95 L313.91,339.04 L314.78,339.13 L315.65,339.22 L316.52,339.30 L317.39,339.39 L318.26,339.48 L319.13,339.57 L320.00,339.65 L320.87,339.74 L321.74,339.83 L322.61,339.91 L323.48,340.00 L324.35,340.09 L325.22,340.18 L326.09,340.26 L326.96,340.35 L327.83,340.44 L328.70,340.53 L329.57,340.61 L330.44,340.70 L331.31,340.79 L332.18,340.88 L333.05,340.96 L333.92,341.05 L334.79,341.14 L335.66,341.23 L336.53,341.31 L337.40,341.40 L338.27,341.49 L339.14,341.58 L340.01,341.66 L340.88,341.75 L341.75,341.84 L342.62,341.92 L343.49,342.01 L344.36,342.10 L345.23,342.19 L346.10,342.27 L346.97,342.36 L347.84,342.45 L348.71,342.54 L349.58,342.62 L350.45,342.71 L351.32,342.80 L352.19,342.89 L353.06,342.97 L353.93,343.06 L354.80,343.15 L355.67,343.24 L356.54,343.32 L357.41,343.41 L358.28,343.50 L359.15,343.59 L360.02,343.67 L360.89,343.76 L361.76,343.85 L362.63,343.93 L363.50,344.02 L364.37,344.11 L365.24,344.20 L366.11,344.28 L366.98,344.37 L367.85,344.46 L368.72,344.55 L369.59,344.63 L370.46,344.72 L371.34,344.81 L372.21,344.90 L373.08,344.98 L373.95,345.07 L374.82,345.16 L375.69,345.25 L376.56,345.33 L377.43,345.42 L378.30,345.51 L379.17,345.60 L380.04,345.68 L380.91,345.77 L381.78,345.86 L382.65,345.94 L383.52,346.03 L384.39,346.12 L385.26,346.21 L386.13,346.29 L387.00,346.38 L387.87,346.47 L388.74,346.56 L389.61,346.64 L390.48,346.73 L391.35,346.82 L392.22,346.91 L393.09,346.99 L393.96,347.08 L394.83,347.17 L395.70,347.26 L396.57,347.34 L397.44,347.43 L398.31,347.52 L399.18,347.61 L400.05,347.69 L400.92,347.78 L401.79,347.87 L402.66,347.95 L403.53,348.04 L404.40,348.13 L405.27,348.22 L406.14,348.30 L407.01,348.39 L407.88,348.48 L408.75,348.57 L409.62,348.65 L410.49,348.74 L411.36,348.83 L412.23,348.92 L413.10,349.00 L413.97,349.09 L414.84,349.18 L415.71,349.27 L416.58,349.35 L417.45,349.44 L418.32,349.53 L419.19,349.62 L420.06,349.70 L420.93,349.79 L421.80,349.88 L422.67,349.96 L423.54,350.05 L424.41,350.14 L425.28,350.23 L426.15,350.31 L427.02,350.40 L427.89,350.49 L428.76,350.58 L429.63,350.66 L430.50,350.75 L431.37,350.84 L432.24,350.93 L433.11,351.01 L433.98,351.10 L434.85,351.19 L435.72,351.28 L436.59,351.36 L437.46,351.45 L438.33,351.54 L439.20,351.62 L440.07,351.71 L440.94,351.80 L441.81,351.89 L442.68,351.97 L443.55,352.06 L444.42,352.15 L445.29,352.24 L446.16,352.32 L447.03,352.41 L447.90,352.50 L448.77,352.59 L449.64,352.67 L450.51,352.76 L451.38,352.85 L452.25,352.94 L453.12,353.02 L453.99,353.11 L454.86,353.20 L455.73,353.29 L456.60,353.37 L457.47,353.46 L458.34,353.55 L459.21,353.63 L460.08,353.72 L460.95,353.81 L461.82,353.90 L462.69,353.98 L463.56,354.07 L464.43,354.16 L465.30,354.25 L466.17,354.33" stroke="#00ff00" stroke-width="1.9" fill="none" stroke-dasharray="1.2 1.7"/>
<path d="M275.63,375.23 L276.50,375.44 L277.37,375.65 L278.24,375.86 L279.11,376.07 L279.98,376.28 L280.85,376.48 L281.72,376.69 L282.59,376.89 L283.46,377.08 L284.33,377.28 L285.20,377.48 L286.07,377.67 L286.94,377.86 L287.81,378.05 L288.68,378.24 L289.55,378.42 L290.42,378.60 L291.29,378.79 L292.16,378.97 L293.03,379.14 L293.90,379.32 L294.77,379.50 L295.64,379.67 L296.51,379.84 L297.38,380.01 L298.25,380.18 L299.12,380.34 L299.99,380.51 L300.86,380.67 L301.73,380.83 L302.60,380.99 L303.47,381.15 L304.34,381.31 L305.21,381.47 L306.08,381.62 L306.95,381.77 L307.82,381.92 L308.69,382.07 L309.56,382.22 L310.43,382.37 L311.30,382.51 L312.17,382.66 L313.04,382.80 L313.91,382.94 L314.78,383.08 L315.65,383.22 L316.52,383.36 L317.39,383.49 L318.26,383.63 L319.13,383.76 L320.00,383.89 L320.87,384.02 L321.74,384.15 L322.61,384.28 L323.48,384.41 L324.35,384.53 L325.22,384.65 L326.09,384.78 L326.96,384.90 L327.83,385.02 L328.70,385.14 L329.57,385.26 L330.44,385.38 L331.31,385.49 L332.18,385.61 L333.05,385.72 L333.92,385.83 L334.79,385.95 L335.66,386.06 L336.53,386.17 L337.40,386.27 L338.27,386.38 L339.14,386.49 L340.01,386.59 L340.88,386.70 L341.75,386.80 L342.62,386.90 L343.49,387.00 L344.36,387.10 L345.23,387.20 L346.10,387.30 L346.97,387.40 L347.84,387.50 L348.71,387.59 L349.58,387.69 L350.45,387.78 L351.32,387.87 L352.19,387.96 L353.06,388.06 L353.93,388.15 L354.80,388.23 L355.67,388.32 L356.54,388.41 L357.41,388.50 L358.28,388.58 L359.15,388.67 L360.02,388.75 L360.89,388.84 L361.76,388.92 L362.63,389.00 L363.50,389.08 L364.37,389.16 L365.24,389.24 L366.11,389.32 L366.98,389.40 L367.85,389.47 L368.72,389.55 L369.59,389.63 L370.46,389.70 L371.34,389.77 L372.21,389.85 L373.08,389.92 L373.95,389.99 L374.82,390.06 L375.69,390.13 L376.56,390.20 L377.43,390.27 L378.30,390.34 L379.17,390.41 L380.04,390.48 L380.91,390.54 L381.78,390.61 L382.65,390.68 L383.52,390.74 L384.39,390.80 L385.26,390.87 L386.13,390.93 L387.00,390.99 L387.87,391.05 L388.74,391.12 L389.61,391.18 L390.48,391.24 L391.35,391.30 L392.22,391.35 L393.09,391.41 L393.96,391.47 L394.83,391.53 L395.70,391.58 L396.57,391.64 L397.44,391.69 L398.31,391.75 L399.18,391.80 L400.05,391.86 L400.92,391.91 L401.79,391.96 L402.66,392.02 L403.53,392.07 L404.40,392.12 L405.27,392.17 L406.14,392.22 L407.01,392.27 L407.88,392.32 L408.75,392.37 L409.62,392.42 L410.49,392.46 L411.36,392.51 L412.23,392.56 L413.10,392.60 L413.97,392.65 L414.84,392.70 L415.71,392.74 L416.58,392.79 L417.45,392.83 L418.32,392.87 L419.19,392.92 L420.06,392.96 L420.93,393.00 L421.80,393.04 L422.67,393.09 L423.54,393.13 L424.41,393.17 L425.28,393.21 L426.15,393.25 L427.02,393.29 L427.89,393.33 L428.76,393.37 L429.63,393.41 L430.50,393.44 L431.37,393.48 L432.24,393.52 L433.11,393.56 L433.98,393.59 L434.85,393.63 L435.72,393.67 L436.59,393.70 L437.46,393.74 L438.33,393.77 L439.20,393.81 L440.07,393.84 L440.94,393.87 L441.81,393.91 L442.68,393.94 L443.55,393.97 L444.42,394.01 L445.29,394.04 L446.16,394.07 L447.03,394.10 L447.90,394.14 L448.77,394.17 L449.64,394.20 L450.51,394.23 L451.38,394.26 L452.25,394.29 L453.12,394.32 L453.99,394.35 L454.86,394.38 L455.73,394.41 L456.60,394.43 L457.47,394.46 L458.34,394.49 L459.21,394.52 L460.08,394.55 L460.95,394.57 L461.82,394.60 L462.69,394.63 L463.56,394.65 L464.43,394.68 L465.30,394.70 L466.17,394.73" stroke="#0000ff" stroke-width="1.6" fill="none" stroke-dasharray="3.6 3 1.2 3.2"/>
<path d="M275.63,391.82 L276.50,391.67 L277.37,391.51 L278.24,391.36 L279.11,391.20 L279.98,391.05 L280.85,390.89 L281.72,390.73 L282.59,390.57 L283.46,390.41 L284.33,390.25 L285.20,390.09 L286.07,389.92 L286.94,389.75 L287.81,389.58 L288.68,389.41 L289.55,389.24 L290.42,389.07 L291.29,388.89 L292.16,388.71 L293.03,388.53 L293.90,388.35 L294.77,388.16 L295.64,387.97 L296.51,387.77 L297.38,387.57 L298.25,387.37 L299.12,387.16 L299.99,386.95 L300.86,386.73 L301.73,386.50 L302.60,386.27 L303.47,386.03 L304.34,385.78 L305.21,385.53 L306.08,385.26 L306.95,384.99 L307.82,384.70 L308.69,384.41 L309.56,384.10 L310.43,383.79 L311.30,383.46 L312.17,383.12 L313.04,382.76 L313.91,382.39 L314.78,382.01 L315.65,381.61 L316.52,381.20 L317.39,380.77 L318.26,380.33 L319.13,379.87 L320.00,379.40 L320.87,378.91 L321.74,378.40 L322.61,377.88 L323.48,377.35 L324.35,376.80 L325.22,376.23 L326.09,375.66 L326.96,375.07 L327.83,374.46 L328.70,373.85 L329.57,373.23 L330.44,372.60 L331.31,371.96 L332.18,371.31 L333.05,370.66 L333.92,370.01 L334.79,369.36 L335.66,368.71 L336.53,368.06 L337.40,367.42 L338.27,366.78 L339.14,366.15 L340.01,365.54 L340.88,364.94 L341.75,364.36 L342.62,363.79 L343.49,363.25 L344.36,362.73 L345.23,362.23 L346.10,361.77 L346.97,361.33 L347.84,360.93 L348.71,360.56 L349.58,360.23 L350.45,359.94 L351.32,359.68 L352.19,359.47 L353.06,359.30 L353.93,359.18 L354.80,359.10 L355.67,359.06 L356.54,359.08 L357.41,359.14 L358.28,359.24 L359.15,359.42 L360.02,359.69 L360.89,360.07 L361.76,360.55 L362.63,361.13 L363.50,361.80 L364.37,362.56 L365.24,363.40 L366.11,364.32 L366.98,365.30 L367.85,366.34 L368.72,367.44 L369.59,368.57 L370.46,369.74 L371.34,370.94 L372.21,372.15 L373.08,373.37 L373.95,374.59 L374.82,375.81 L375.69,377.01 L376.56,378.19 L377.43,379.35 L378.30,380.47 L379.17,381.56 L380.04,382.61 L380.91,383.62 L381.78,384.59 L382.65,385.50 L383.52,386.37 L384.39,387.19 L385.26,387.97 L386.13,388.69 L387.00,389.37 L387.87,390.00 L388.74,390.59 L389.61,391.13 L390.48,391.63 L391.35,392.10 L392.22,392.52 L393.09,392.92 L393.96,393.28 L394.83,393.61 L395.70,393.91 L396.57,394.18 L397.44,394.44 L398.31,394.67 L399.18,394.88 L400.05,395.08 L400.92,395.25 L401.79,395.42 L402.66,395.57 L403.53,395.71 L404.40,395.84 L405.27,395.96 L406.14,396.07 L407.01,396.17 L407.88,396.27 L408.75,396.36 L409.62,396.44 L410.49,396.53 L411.36,396.60 L412.23,396.67 L413.10,396.74 L413.97,396.81 L414.84,396.87 L415.71,396.93 L416.58,396.98 L417.45,397.04 L418.32,397.09 L419.19,397.14 L420.06,397.19 L420.93,397.23 L421.80,397.28 L422.67,397.32 L423.54,397.36 L424.41,397.40 L425.28,397.44 L426.15,397.47 L427.02,397.51 L427.89,397.54 L428.76,397.57 L429.63,397.60 L430.50,397.63 L431.37,397.66 L432.24,397.69 L433.11,397.71 L433.98,397.74 L434.85,397.76 L435.72,397.78 L436.59,397.80 L437.46,397.82 L438.33,397.84 L439.20,397.86 L440.07,397.88 L440.94,397.90 L441.81,397.91 L442.68,397.93 L443.55,397.94 L444.42,397.96 L445.29,397.97 L446.16,397.98 L447.03,398.00 L447.90,398.01 L448.77,398.02 L449.64,398.03 L450.51,398.04 L451.38,398.05 L452.25,398.06 L453.12,398.07 L453.99,398.07 L454.86,398.08 L455.73,398.09 L456.60,398.09 L457.47,398.10 L458.34,398.11 L459.21,398.11 L460.08,398.12 L460.95,398.12 L461.82,398.13 L462.69,398.13 L463.56,398.14 L464.43,398.14 L465.30,398.14 L466.17,398.15" stroke="#ff0000" stroke-width="1.6" fill="none" stroke-dasharray="3.6 2.8"/>
<path d="M275.63,382.73 L276.50,383.15 L277.37,383.56 L278.24,383.96 L279.11,384.36 L279.98,384.74 L280.85,385.12 L281.72,385.49 L282.59,385.85 L283.46,386.21 L284.33,386.56 L285.20,386.89 L286.07,387.22 L286.94,387.55 L287.81,387.87 L288.68,388.18 L289.55,388.49 L290.42,388.79 L291.29,389.08 L292.16,389.36 L293.03,389.62 L293.90,389.88 L294.77,390.14 L295.64,390.41 L296.51,390.69 L297.38,390.98 L298.25,391.26 L299.12,391.54 L299.99,391.82 L300.86,392.09 L301.73,392.34 L302.60,392.58 L303.47,392.79 L304.34,392.99 L305.21,393.16 L306.08,393.30 L306.95,393.40 L307.82,393.47 L308.69,393.49 L309.56,393.49 L310.43,393.48 L311.30,393.47 L312.17,393.45 L313.04,393.43 L313.91,393.40 L314.78,393.37 L315.65,393.34 L316.52,393.31 L317.39,393.28 L318.26,393.25 L319.13,393.22 L320.00,393.20 L320.87,393.18 L321.74,393.16 L322.61,393.15 L323.48,393.14 L324.35,393.14 L325.22,393.16 L326.09,393.20 L326.96,393.25 L327.83,393.32 L328.70,393.40 L329.57,393.48 L330.44,393.58 L331.31,393.68 L332.18,393.78 L333.05,393.89 L333.92,394.00 L334.79,394.11 L335.66,394.22 L336.53,394.32 L337.40,394.42 L338.27,394.51 L339.14,394.59 L340.01,394.66 L340.88,394.72 L341.75,394.79 L342.62,394.86 L343.49,394.92 L344.36,394.99 L345.23,395.06 L346.10,395.13 L346.97,395.20 L347.84,395.26 L348.71,395.33 L349.58,395.40 L350.45,395.46 L351.32,395.53 L352.19,395.59 L353.06,395.66 L353.93,395.72 L354.80,395.77 L355.67,395.83 L356.54,395.89 L357.41,395.94 L358.28,395.99 L359.15,396.03 L360.02,396.08 L360.89,396.12 L361.76,396.15 L362.63,396.19 L363.50,396.22 L364.37,396.24 L365.24,396.26 L366.11,396.28 L366.98,396.29 L367.85,396.30 L368.72,396.31 L369.59,396.31 L370.46,396.31 L371.34,396.32 L372.21,396.32 L373.08,396.33 L373.95,396.33 L374.82,396.33 L375.69,396.34 L376.56,396.34 L377.43,396.35 L378.30,396.35 L379.17,396.35 L380.04,396.36 L380.91,396.36 L381.78,396.36 L382.65,396.37 L383.52,396.37 L384.39,396.37 L385.26,396.37 L386.13,396.38 L387.00,396.38 L387.87,396.38 L388.74,396.39 L389.61,396.39 L390.48,396.39 L391.35,396.39 L392.22,396.39 L393.09,396.40 L393.96,396.40 L394.83,396.40 L395.70,396.40 L396.57,396.40 L397.44,396.41 L398.31,396.41 L399.18,396.41 L400.05,396.41 L400.92,396.41 L401.79,396.41 L402.66,396.42 L403.53,396.42 L404.40,396.42 L405.27,396.42 L406.14,396.42 L407.01,396.42 L407.88,396.42 L408.75,396.42 L409.62,396.42 L410.49,396.43 L411.36,396.43 L412.23,396.43 L413.10,396.43 L413.97,396.43 L414.84,396.43 L415.71,396.43 L416.58,396.43 L417.45,396.43 L418.32,396.43 L419.19,396.43 L420.06,396.43 L420.93,396.43 L421.80,396.43 L422.67,396.43 L423.54,396.42 L424.41,396.42 L425.28,396.42 L426.15,396.42 L427.02,396.41 L427.89,396.41 L428.76,396.40 L429.63,396.40 L430.50,396.39 L431.37,396.39 L432.24,396.38 L433.11,396.37 L433.98,396.37 L434.85,396.36 L435.72,396.35 L436.59,396.34 L437.46,396.34 L438.33,396.33 L439.20,396.32 L440.07,396.31 L440.94,396.30 L441.81,396.29 L442.68,396.28 L443.55,396.27 L444.42,396.26 L445.29,396.24 L446.16,396.23 L447.03,396.22 L447.90,396.21 L448.77,396.20 L449.64,396.18 L450.51,396.17 L451.38,396.16 L452.25,396.15 L453.12,396.13 L453.99,396.12 L454.86,396.10 L455.73,396.09 L456.60,396.08 L457.47,396.06 L458.34,396.05 L459.21,396.03 L460.08,396.02 L460.95,396.00 L461.82,395.99 L462.69,395.97 L463.56,395.96 L464.43,395.95 L465.30,395.93 L466.17,395.91" stroke="#ff00ff" stroke-width="1.6" fill="none"/>
<text transform="translate(267.00,402.25) scale(0.9,1)" text-anchor="end" class="tl">0</text>
<text transform="translate(267.00,376.95) scale(0.9,1)" text-anchor="end" class="tl">10</text>
<text transform="translate(267.00,351.65) scale(0.9,1)" text-anchor="end" class="tl">20</text>
<text transform="translate(267.00,326.35) scale(0.9,1)" text-anchor="end" class="tl">30</text>
<text transform="translate(267.00,301.05) scale(0.9,1)" text-anchor="end" class="tl">40</text>
<text transform="translate(267.00,275.75) scale(0.9,1)" text-anchor="end" class="tl">50</text>
<text transform="translate(267.00,250.45) scale(0.9,1)" text-anchor="end" class="tl">60</text>
<text transform="translate(267.00,225.15) scale(0.9,1)" text-anchor="end" class="tl">70</text>
<text transform="translate(271.30,410.70) scale(0.9,1)" text-anchor="middle" class="tl">-0.2</text>
<text transform="translate(314.60,410.70) scale(0.9,1)" text-anchor="middle" class="tl">-0.1</text>
<text transform="translate(357.90,410.70) scale(0.9,1)" text-anchor="middle" class="tl">0</text>
<text transform="translate(401.20,410.70) scale(0.9,1)" text-anchor="middle" class="tl">0.1</text>
<text transform="translate(444.50,410.70) scale(0.9,1)" text-anchor="middle" class="tl">0.2</text>
<text transform="translate(470.80,427.70) scale(0.94,1)" text-anchor="end" class="ti"><tspan font-style="normal" font-size="14.5">Δ</tspan>E (GeV)</text>
<text transform="translate(249.70,220.90) rotate(-90) scale(0.94,1)" text-anchor="end" class="ti">Events / 20 MeV</text>
</g>
</svg>
</body></html>
